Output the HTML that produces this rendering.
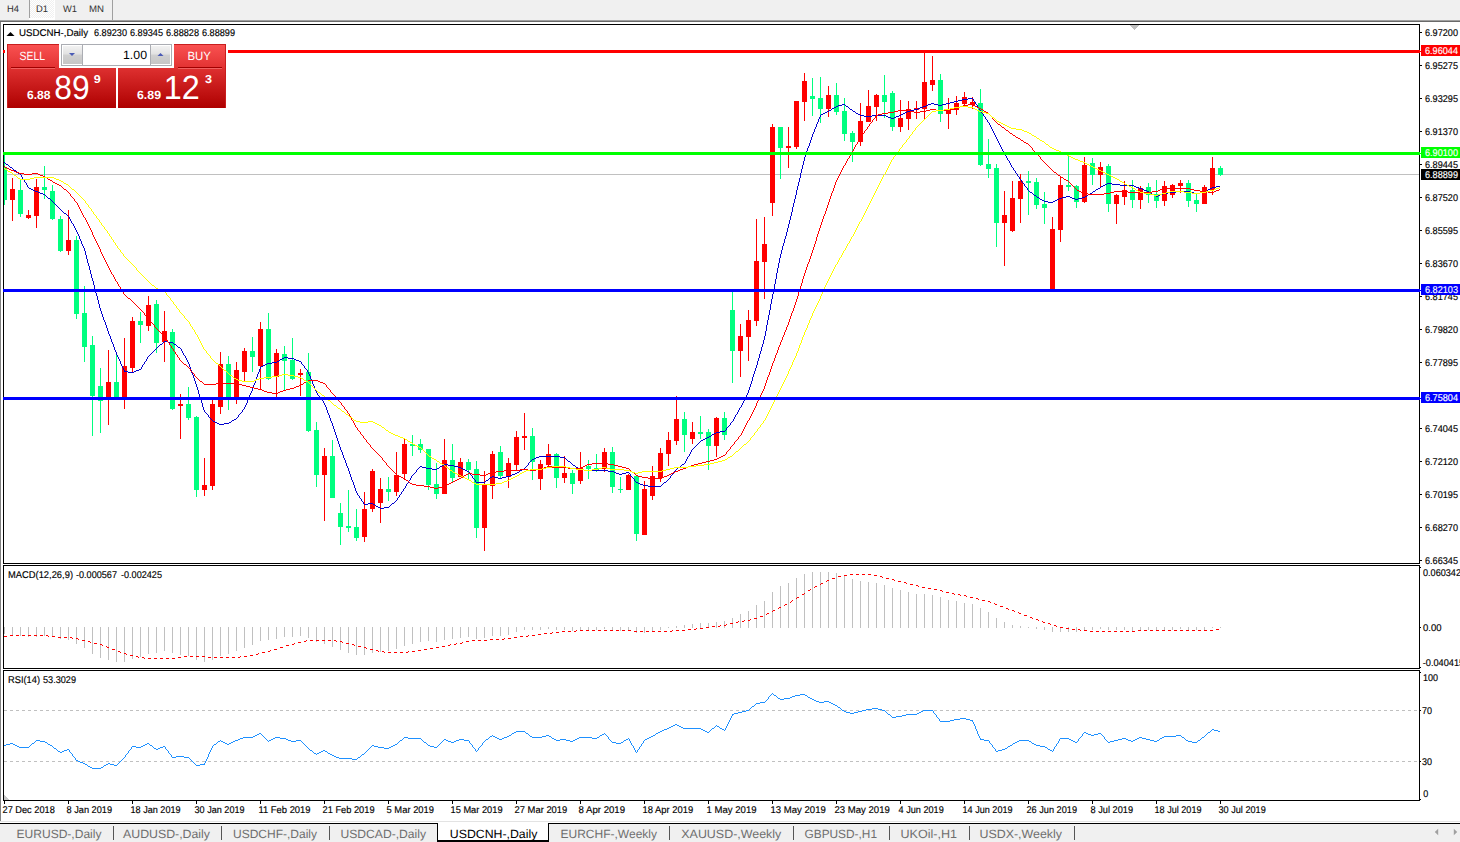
<!DOCTYPE html>
<html><head><meta charset="utf-8"><title>USDCNH-,Daily</title>
<style>html,body{margin:0;padding:0;background:#fff;overflow:hidden}body{width:1460px;height:842px;font-family:"Liberation Sans",sans-serif}svg{display:block}text{white-space:pre}</style>
</head><body><svg width="1460" height="842" viewBox="0 0 1460 842" shape-rendering="crispEdges" text-rendering="geometricPrecision" font-family="Liberation Sans, sans-serif"><rect x="0" y="0" width="1460" height="842" fill="#fff" />
<rect x="0" y="0" width="1460" height="20" fill="#f0f0f0" />
<rect x="0" y="20" width="1460" height="1" fill="#a0a0a0" />
<rect x="0" y="21" width="1460" height="1" fill="#696969" />
<defs><pattern id="chk" width="2" height="2" patternUnits="userSpaceOnUse"><rect width="2" height="2" fill="#f0f0f0"/><rect width="1" height="1" fill="#fff"/><rect x="1" y="1" width="1" height="1" fill="#fff"/></pattern></defs>
<rect x="30" y="0" width="24" height="18" fill="url(#chk)" />
<rect x="54" y="0" width="1" height="20" fill="#fff" />
<rect x="29" y="18" width="26" height="2" fill="#fff" />
<rect x="29" y="0" width="1" height="18" fill="#a0a0a0" />
<rect x="112" y="0" width="1" height="20" fill="#a0a0a0" />
<text x="7" y="12" font-size="9.6" fill="#333" textLength="12" lengthAdjust="spacingAndGlyphs" >H4</text>
<text x="36" y="12" font-size="9.6" fill="#333" textLength="12" lengthAdjust="spacingAndGlyphs" >D1</text>
<text x="63" y="12" font-size="9.6" fill="#333" textLength="14" lengthAdjust="spacingAndGlyphs" >W1</text>
<text x="89" y="12" font-size="9.6" fill="#333" textLength="15" lengthAdjust="spacingAndGlyphs" >MN</text>
<rect x="0" y="22" width="1" height="799" fill="#828282" />
<rect x="3" y="24" width="1417" height="1" fill="#000" />
<rect x="3" y="563" width="1417" height="1" fill="#000" />
<rect x="3" y="24" width="1" height="540" fill="#000" />
<rect x="1419" y="24" width="1" height="540" fill="#000" />
<rect x="3" y="565" width="1417" height="1" fill="#000" />
<rect x="3" y="668" width="1417" height="1" fill="#000" />
<rect x="3" y="565" width="1" height="104" fill="#000" />
<rect x="1419" y="565" width="1" height="104" fill="#000" />
<rect x="3" y="670" width="1417" height="1" fill="#000" />
<rect x="3" y="800" width="1417" height="1" fill="#000" />
<rect x="3" y="670" width="1" height="131" fill="#000" />
<rect x="1419" y="670" width="1" height="131" fill="#000" />
<rect x="4" y="174" width="1415" height="1" fill="#c0c0c0" />
<g><path fill="#00ff7f" d="M4 155h1v50h-1zM4 167h3v33h-3z"/><path fill="#ff0000" d="M12 178h1v43h-1zM10 189h5v11h-5z"/><path fill="#00ff7f" d="M20 180h1v37h-1zM18 190h5v24h-5z"/><path fill="#ff0000" d="M28 210h1v9h-1zM26 215h5v3h-5z"/><path fill="#ff0000" d="M36 179h1v49h-1zM34 187h5v29h-5z"/><path fill="#00ff7f" d="M44 166h1v33h-1zM42 187h5v3h-5z"/><path fill="#00ff7f" d="M52 185h1v35h-1zM50 191h5v28h-5z"/><path fill="#00ff7f" d="M60 216h1v36h-1zM58 219h5v32h-5z"/><path fill="#ff0000" d="M68 210h1v45h-1zM66 240h5v11h-5z"/><path fill="#00ff7f" d="M76 236h1v83h-1zM74 240h5v74h-5z"/><path fill="#00ff7f" d="M84 286h1v76h-1zM82 313h5v34h-5z"/><path fill="#00ff7f" d="M92 336h1v100h-1zM90 345h5v51h-5z"/><path fill="#00ff7f" d="M100 368h1v65h-1zM98 386h5v15h-5z"/><path fill="#ff0000" d="M108 350h1v75h-1zM106 382h5v15h-5z"/><path fill="#00ff7f" d="M116 355h1v44h-1zM114 382h5v15h-5z"/><path fill="#ff0000" d="M124 338h1v71h-1zM122 366h5v31h-5z"/><path fill="#ff0000" d="M132 317h1v55h-1zM130 321h5v47h-5z"/><path fill="#00ff7f" d="M140 312h1v31h-1zM138 321h5v4h-5z"/><path fill="#ff0000" d="M148 296h1v35h-1zM146 305h5v21h-5z"/><path fill="#00ff7f" d="M156 300h1v53h-1zM154 304h5v39h-5z"/><path fill="#ff0000" d="M164 311h1v51h-1zM162 331h5v11h-5z"/><path fill="#00ff7f" d="M172 329h1v81h-1zM170 332h5v77h-5z"/><path fill="#ff0000" d="M180 394h1v45h-1zM178 404h5v2h-5z"/><path fill="#00ff7f" d="M188 387h1v33h-1zM186 404h5v14h-5z"/><path fill="#00ff7f" d="M196 416h1v81h-1zM194 417h5v73h-5z"/><path fill="#ff0000" d="M204 458h1v38h-1zM202 485h5v5h-5z"/><path fill="#ff0000" d="M212 400h1v90h-1zM210 404h5v82h-5z"/><path fill="#ff0000" d="M220 352h1v62h-1zM218 364h5v43h-5z"/><path fill="#00ff7f" d="M228 356h1v54h-1zM226 364h5v33h-5z"/><path fill="#ff0000" d="M236 362h1v42h-1zM234 370h5v27h-5z"/><path fill="#ff0000" d="M244 348h1v33h-1zM242 351h5v21h-5z"/><path fill="#00ff7f" d="M252 337h1v35h-1zM250 351h5v6h-5z"/><path fill="#ff0000" d="M260 322h1v68h-1zM258 329h5v37h-5z"/><path fill="#00ff7f" d="M268 313h1v67h-1zM266 329h5v50h-5z"/><path fill="#ff0000" d="M276 349h1v48h-1zM274 353h5v24h-5z"/><path fill="#00ff7f" d="M284 346h1v44h-1zM282 354h5v7h-5z"/><path fill="#00ff7f" d="M292 338h1v42h-1zM290 360h5v19h-5z"/><path fill="#ff0000" d="M300 369h1v27h-1zM298 373h5v2h-5z"/><path fill="#00ff7f" d="M308 353h1v79h-1zM306 372h5v59h-5z"/><path fill="#00ff7f" d="M316 422h1v65h-1zM314 430h5v45h-5z"/><path fill="#ff0000" d="M324 448h1v73h-1zM322 456h5v19h-5z"/><path fill="#00ff7f" d="M332 440h1v58h-1zM330 456h5v42h-5z"/><path fill="#00ff7f" d="M340 503h1v42h-1zM338 513h5v14h-5z"/><path fill="#00ff7f" d="M348 490h1v42h-1zM346 526h5v2h-5z"/><path fill="#00ff7f" d="M356 509h1v32h-1zM354 527h5v11h-5z"/><path fill="#ff0000" d="M364 492h1v50h-1zM362 509h5v28h-5z"/><path fill="#ff0000" d="M372 469h1v43h-1zM370 471h5v38h-5z"/><path fill="#ff0000" d="M380 478h1v45h-1zM378 489h5v14h-5z"/><path fill="#00ff7f" d="M388 477h1v24h-1zM386 489h5v3h-5z"/><path fill="#ff0000" d="M396 452h1v44h-1zM394 475h5v17h-5z"/><path fill="#ff0000" d="M404 439h1v41h-1zM402 444h5v30h-5z"/><path fill="#00ff7f" d="M412 435h1v21h-1zM410 444h5v2h-5z"/><path fill="#00ff7f" d="M420 439h1v14h-1zM418 444h5v6h-5z"/><path fill="#00ff7f" d="M428 449h1v41h-1zM426 449h5v36h-5z"/><path fill="#00ff7f" d="M436 463h1v36h-1zM434 484h5v10h-5z"/><path fill="#ff0000" d="M444 439h1v55h-1zM442 460h5v34h-5z"/><path fill="#00ff7f" d="M452 444h1v38h-1zM450 460h5v18h-5z"/><path fill="#ff0000" d="M460 458h1v19h-1zM458 462h5v15h-5z"/><path fill="#00ff7f" d="M468 459h1v20h-1zM466 462h5v8h-5z"/><path fill="#00ff7f" d="M476 461h1v77h-1zM474 469h5v59h-5z"/><path fill="#ff0000" d="M484 471h1v80h-1zM482 484h5v44h-5z"/><path fill="#ff0000" d="M492 451h1v48h-1zM490 454h5v32h-5z"/><path fill="#00ff7f" d="M500 446h1v33h-1zM498 452h5v24h-5z"/><path fill="#ff0000" d="M508 458h1v30h-1zM506 463h5v14h-5z"/><path fill="#ff0000" d="M516 431h1v40h-1zM514 437h5v28h-5z"/><path fill="#ff0000" d="M524 413h1v37h-1zM522 436h5v2h-5z"/><path fill="#00ff7f" d="M532 428h1v52h-1zM530 436h5v26h-5z"/><path fill="#ff0000" d="M540 460h1v30h-1zM538 464h5v15h-5z"/><path fill="#ff0000" d="M548 444h1v22h-1zM546 454h5v11h-5z"/><path fill="#00ff7f" d="M556 453h1v35h-1zM554 454h5v24h-5z"/><path fill="#ff0000" d="M564 456h1v27h-1zM562 473h5v5h-5z"/><path fill="#00ff7f" d="M572 470h1v24h-1zM570 473h5v11h-5z"/><path fill="#ff0000" d="M580 452h1v32h-1zM578 468h5v13h-5z"/><path fill="#00ff7f" d="M588 460h1v19h-1zM586 466h5v3h-5z"/><path fill="#00ff7f" d="M596 454h1v18h-1zM594 468h5v2h-5z"/><path fill="#ff0000" d="M604 448h1v24h-1zM602 452h5v17h-5z"/><path fill="#00ff7f" d="M612 447h1v46h-1zM610 452h5v35h-5z"/><path fill="#00ff7f" d="M620 477h1v16h-1zM618 489h5v1h-5z"/><path fill="#ff0000" d="M628 474h1v16h-1zM626 475h5v15h-5z"/><path fill="#00ff7f" d="M636 475h1v66h-1zM634 476h5v58h-5z"/><path fill="#ff0000" d="M644 481h1v54h-1zM642 489h5v46h-5z"/><path fill="#ff0000" d="M652 466h1v34h-1zM650 476h5v20h-5z"/><path fill="#ff0000" d="M660 448h1v34h-1zM658 453h5v25h-5z"/><path fill="#ff0000" d="M668 432h1v34h-1zM666 440h5v14h-5z"/><path fill="#ff0000" d="M676 396h1v49h-1zM674 419h5v22h-5z"/><path fill="#00ff7f" d="M684 412h1v40h-1zM682 419h5v16h-5z"/><path fill="#ff0000" d="M692 422h1v22h-1zM690 432h5v7h-5z"/><path fill="#00ff7f" d="M700 416h1v23h-1zM698 432h5v2h-5z"/><path fill="#00ff7f" d="M708 429h1v41h-1zM706 432h5v14h-5z"/><path fill="#ff0000" d="M716 417h1v40h-1zM714 418h5v28h-5z"/><path fill="#00ff7f" d="M724 412h1v28h-1zM722 418h5v17h-5z"/><path fill="#00ff7f" d="M732 290h1v93h-1zM730 310h5v41h-5z"/><path fill="#ff0000" d="M740 324h1v53h-1zM738 336h5v15h-5z"/><path fill="#ff0000" d="M748 310h1v51h-1zM746 320h5v17h-5z"/><path fill="#ff0000" d="M756 219h1v107h-1zM754 261h5v60h-5z"/><path fill="#ff0000" d="M764 217h1v82h-1zM762 244h5v18h-5z"/><path fill="#ff0000" d="M772 124h1v92h-1zM770 127h5v76h-5z"/><path fill="#00ff7f" d="M780 127h1v52h-1zM778 127h5v21h-5z"/><path fill="#ff0000" d="M788 127h1v41h-1zM786 146h5v2h-5z"/><path fill="#ff0000" d="M796 101h1v48h-1zM794 101h5v46h-5z"/><path fill="#ff0000" d="M804 73h1v48h-1zM802 81h5v21h-5z"/><path fill="#00ff7f" d="M812 78h1v38h-1zM810 96h5v3h-5z"/><path fill="#00ff7f" d="M820 77h1v46h-1zM818 98h5v11h-5z"/><path fill="#ff0000" d="M828 86h1v31h-1zM826 95h5v14h-5z"/><path fill="#00ff7f" d="M836 83h1v32h-1zM834 95h5v17h-5z"/><path fill="#00ff7f" d="M844 98h1v43h-1zM842 111h5v23h-5z"/><path fill="#00ff7f" d="M852 131h1v31h-1zM850 133h5v9h-5z"/><path fill="#ff0000" d="M860 103h1v43h-1zM858 121h5v21h-5z"/><path fill="#ff0000" d="M868 90h1v32h-1zM866 106h5v16h-5z"/><path fill="#ff0000" d="M876 94h1v27h-1zM874 95h5v12h-5z"/><path fill="#00ff7f" d="M884 75h1v43h-1zM882 95h5v7h-5z"/><path fill="#00ff7f" d="M892 91h1v40h-1zM890 93h5v34h-5z"/><path fill="#ff0000" d="M900 100h1v32h-1zM898 118h5v9h-5z"/><path fill="#ff0000" d="M908 101h1v29h-1zM906 109h5v10h-5z"/><path fill="#ff0000" d="M916 101h1v18h-1zM914 108h5v2h-5z"/><path fill="#ff0000" d="M924 53h1v66h-1zM922 82h5v27h-5z"/><path fill="#ff0000" d="M932 56h1v35h-1zM930 80h5v5h-5z"/><path fill="#00ff7f" d="M940 74h1v48h-1zM938 80h5v34h-5z"/><path fill="#ff0000" d="M948 98h1v31h-1zM946 110h5v4h-5z"/><path fill="#ff0000" d="M956 96h1v19h-1zM954 103h5v7h-5z"/><path fill="#ff0000" d="M964 92h1v14h-1zM962 97h5v7h-5z"/><path fill="#ff0000" d="M972 97h1v12h-1zM970 102h5v3h-5z"/><path fill="#00ff7f" d="M980 89h1v77h-1zM978 103h5v62h-5z"/><path fill="#00ff7f" d="M988 139h1v39h-1zM986 164h5v5h-5z"/><path fill="#00ff7f" d="M996 164h1v83h-1zM994 168h5v55h-5z"/><path fill="#ff0000" d="M1004 191h1v75h-1zM1002 215h5v8h-5z"/><path fill="#ff0000" d="M1012 181h1v51h-1zM1010 198h5v33h-5z"/><path fill="#ff0000" d="M1020 174h1v49h-1zM1018 181h5v18h-5z"/><path fill="#00ff7f" d="M1028 171h1v44h-1zM1026 181h5v2h-5z"/><path fill="#00ff7f" d="M1036 178h1v31h-1zM1034 182h5v23h-5z"/><path fill="#00ff7f" d="M1044 192h1v32h-1zM1042 204h5v4h-5z"/><path fill="#ff0000" d="M1052 217h1v73h-1zM1050 229h5v61h-5z"/><path fill="#ff0000" d="M1060 177h1v65h-1zM1058 185h5v45h-5z"/><path fill="#00ff7f" d="M1068 155h1v36h-1zM1066 185h5v2h-5z"/><path fill="#00ff7f" d="M1076 185h1v23h-1zM1074 186h5v16h-5z"/><path fill="#ff0000" d="M1084 157h1v46h-1zM1082 165h5v37h-5z"/><path fill="#00ff7f" d="M1092 158h1v27h-1zM1090 163h5v12h-5z"/><path fill="#ff0000" d="M1100 162h1v26h-1zM1098 167h5v8h-5z"/><path fill="#00ff7f" d="M1108 164h1v48h-1zM1106 166h5v38h-5z"/><path fill="#ff0000" d="M1116 194h1v30h-1zM1114 195h5v9h-5z"/><path fill="#ff0000" d="M1124 181h1v24h-1zM1122 190h5v7h-5z"/><path fill="#00ff7f" d="M1132 180h1v28h-1zM1130 190h5v10h-5z"/><path fill="#ff0000" d="M1140 186h1v23h-1zM1138 188h5v12h-5z"/><path fill="#00ff7f" d="M1148 183h1v20h-1zM1146 187h5v8h-5z"/><path fill="#00ff7f" d="M1156 180h1v28h-1zM1154 194h5v7h-5z"/><path fill="#ff0000" d="M1164 181h1v25h-1zM1162 186h5v15h-5z"/><path fill="#ff0000" d="M1172 184h1v14h-1zM1170 185h5v10h-5z"/><path fill="#ff0000" d="M1180 180h1v13h-1zM1178 183h5v3h-5z"/><path fill="#00ff7f" d="M1188 180h1v27h-1zM1186 183h5v18h-5z"/><path fill="#00ff7f" d="M1196 193h1v19h-1zM1194 200h5v4h-5z"/><path fill="#ff0000" d="M1204 185h1v19h-1zM1202 187h5v17h-5z"/><path fill="#ff0000" d="M1212 157h1v38h-1zM1210 168h5v22h-5z"/><path fill="#00ff7f" d="M1220 166h1v10h-1zM1218 168h5v7h-5z"/></g>
<path fill="#0000cd" d="M4 162h1v1h-1zM5 163h1v1h-1zM6 164h2v1h-2zM8 165h1v1h-1zM9 166h1v1h-1zM10 167h2v1h-2zM12 168h1v1h-1zM13 169h1v1h-1zM14 170h2v1h-2zM16 171h1v1h-1zM17 172h1v1h-1zM18 173h2v1h-2zM20 174h1v1h-1zM21 175h1v2h-1zM22 177h1v2h-1zM23 179h1v1h-1zM24 180h1v2h-1zM25 182h1v1h-1zM26 183h1v2h-1zM27 185h1v2h-1zM28 187h1v1h-1zM29 188h2v1h-2zM31 189h2v1h-2zM33 190h2v1h-2zM35 191h3v1h-3zM38 192h2v1h-2zM40 193h3v1h-3zM43 194h2v1h-2zM45 195h1v1h-1zM46 196h1v1h-1zM47 197h1v1h-1zM48 198h2v1h-2zM50 199h1v1h-1zM51 200h1v1h-1zM52 201h1v1h-1zM53 202h1v1h-1zM54 203h1v1h-1zM55 204h1v1h-1zM56 205h1v1h-1zM57 206h1v1h-1zM58 207h1v1h-1zM59 208h1v1h-1zM60 209h1v1h-1zM61 210h1v1h-1zM62 211h1v1h-1zM63 212h1v1h-1zM64 213h2v1h-2zM66 214h1v1h-1zM67 215h1v1h-1zM68 216h1v1h-1zM69 217h1v2h-1zM70 219h1v2h-1zM71 221h1v2h-1zM72 223h1v1h-1zM73 224h1v2h-1zM74 226h1v2h-1zM75 228h1v2h-1zM76 230h1v2h-1zM77 232h1v2h-1zM78 234h1v2h-1zM79 236h1v3h-1zM80 239h1v2h-1zM81 241h1v3h-1zM82 244h1v2h-1zM83 246h1v2h-1zM84 248h1v3h-1zM85 251h1v4h-1zM86 255h1v4h-1zM87 259h1v4h-1zM88 263h1v3h-1zM89 266h1v4h-1zM90 270h1v4h-1zM91 274h1v4h-1zM92 278h1v3h-1zM93 281h1v4h-1zM94 285h1v4h-1zM95 289h1v4h-1zM96 293h1v3h-1zM97 296h1v4h-1zM98 300h1v4h-1zM99 304h1v4h-1zM100 308h1v3h-1zM101 311h1v3h-1zM102 314h1v3h-1zM103 317h1v3h-1zM104 320h1v2h-1zM105 322h1v3h-1zM106 325h1v3h-1zM107 328h1v3h-1zM108 331h1v3h-1zM109 334h1v2h-1zM110 336h1v3h-1zM111 339h1v3h-1zM112 342h1v2h-1zM113 344h1v3h-1zM114 347h1v3h-1zM115 350h1v2h-1zM116 352h1v3h-1zM117 355h1v2h-1zM118 357h1v2h-1zM119 359h1v2h-1zM120 361h1v3h-1zM121 364h1v2h-1zM122 366h1v2h-1zM123 368h1v2h-1zM124 370h1v1h-1zM124 371h4v1h-4zM128 372h6v1h-6zM134 371h2v1h-2zM136 370h3v1h-3zM139 369h2v1h-2zM141 367h1v2h-1zM142 365h1v2h-1zM143 364h1v1h-1zM144 362h1v2h-1zM145 361h1v1h-1zM146 359h1v2h-1zM147 357h1v2h-1zM148 356h1v1h-1zM149 355h1v1h-1zM150 354h1v1h-1zM151 353h1v1h-1zM152 352h1v1h-1zM153 351h1v1h-1zM154 350h1v1h-1zM155 349h1v1h-1zM156 348h1v1h-1zM157 347h1v1h-1zM158 346h1v1h-1zM159 345h1v1h-1zM160 344h2v1h-2zM162 343h1v1h-1zM163 342h1v1h-1zM164 341h4v1h-4zM168 342h5v1h-5zM173 343h1v1h-1zM174 344h2v1h-2zM176 345h1v1h-1zM177 346h1v1h-1zM178 347h2v1h-2zM180 348h1v1h-1zM181 349h1v2h-1zM182 351h1v2h-1zM183 353h1v2h-1zM184 355h1v1h-1zM185 356h1v2h-1zM186 358h1v2h-1zM187 360h1v2h-1zM188 362h1v2h-1zM189 364h1v3h-1zM190 367h1v3h-1zM191 370h1v3h-1zM192 373h1v2h-1zM193 375h1v3h-1zM194 378h1v3h-1zM195 381h1v3h-1zM196 384h1v3h-1zM197 387h1v3h-1zM198 390h1v4h-1zM199 394h1v3h-1zM200 397h1v3h-1zM201 400h1v3h-1zM202 403h1v4h-1zM203 407h1v3h-1zM204 410h1v2h-1zM205 412h1v1h-1zM206 413h1v1h-1zM207 414h1v1h-1zM208 415h1v2h-1zM209 417h1v1h-1zM210 418h1v1h-1zM211 419h1v1h-1zM212 420h1v1h-1zM213 421h2v1h-2zM215 422h2v1h-2zM217 423h2v1h-2zM219 424h5v1h-5zM224 423h5v1h-5zM229 422h2v1h-2zM231 421h1v1h-1zM232 420h2v1h-2zM234 419h2v1h-2zM236 418h1v1h-1zM237 417h1v1h-1zM238 415h1v2h-1zM239 414h1v1h-1zM240 413h1v1h-1zM241 412h1v1h-1zM242 410h1v2h-1zM243 409h1v1h-1zM244 407h1v2h-1zM245 405h1v2h-1zM246 403h1v2h-1zM247 400h1v3h-1zM248 398h1v2h-1zM249 395h1v3h-1zM250 393h1v2h-1zM251 391h1v2h-1zM252 388h1v3h-1zM253 385h1v3h-1zM254 383h1v2h-1zM255 380h1v3h-1zM256 377h1v3h-1zM257 374h1v3h-1zM258 372h1v2h-1zM259 369h1v3h-1zM260 367h1v2h-1zM261 366h2v1h-2zM263 365h2v1h-2zM265 364h2v1h-2zM267 363h5v1h-5zM272 362h5v1h-5zM277 361h2v1h-2zM279 360h1v1h-1zM280 359h2v1h-2zM282 358h2v1h-2zM284 357h4v1h-4zM288 358h6v1h-6zM294 359h2v1h-2zM296 360h3v1h-3zM299 361h2v1h-2zM301 362h1v2h-1zM302 364h1v1h-1zM303 365h1v1h-1zM304 366h1v2h-1zM305 368h1v1h-1zM306 369h1v1h-1zM307 370h1v2h-1zM308 372h1v2h-1zM309 374h1v2h-1zM310 376h1v3h-1zM311 379h1v2h-1zM312 381h1v3h-1zM313 384h1v2h-1zM314 386h1v3h-1zM315 389h1v2h-1zM316 391h1v2h-1zM317 393h1v2h-1zM318 395h1v1h-1zM319 396h1v1h-1zM320 397h1v2h-1zM321 399h1v1h-1zM322 400h1v1h-1zM323 401h1v2h-1zM324 403h1v2h-1zM325 405h1v2h-1zM326 407h1v3h-1zM327 410h1v3h-1zM328 413h1v2h-1zM329 415h1v3h-1zM330 418h1v3h-1zM331 421h1v2h-1zM332 423h1v3h-1zM333 426h1v3h-1zM334 429h1v3h-1zM335 432h1v3h-1zM336 435h1v3h-1zM337 438h1v3h-1zM338 441h1v3h-1zM339 444h1v3h-1zM340 447h1v3h-1zM341 450h1v2h-1zM342 452h1v3h-1zM343 455h1v3h-1zM344 458h1v2h-1zM345 460h1v3h-1zM346 463h1v3h-1zM347 466h1v2h-1zM348 468h1v3h-1zM349 471h1v3h-1zM350 474h1v3h-1zM351 477h1v3h-1zM352 480h1v2h-1zM353 482h1v3h-1zM354 485h1v3h-1zM355 488h1v3h-1zM356 491h1v2h-1zM357 493h1v2h-1zM358 495h1v1h-1zM359 496h1v2h-1zM360 498h1v1h-1zM361 499h1v2h-1zM362 501h1v1h-1zM363 502h1v2h-1zM364 504h4v1h-4zM368 503h5v1h-5zM373 504h2v1h-2zM375 505h1v1h-1zM376 506h2v1h-2zM378 507h2v1h-2zM380 508h4v1h-4zM384 507h5v1h-5zM389 506h1v1h-1zM390 505h1v1h-1zM391 504h1v1h-1zM392 503h2v1h-2zM394 502h1v1h-1zM395 501h1v1h-1zM396 500h1v1h-1zM397 498h1v2h-1zM398 497h1v1h-1zM399 495h1v2h-1zM400 494h1v1h-1zM401 492h1v2h-1zM402 491h1v1h-1zM403 489h1v2h-1zM404 488h1v1h-1zM405 486h1v2h-1zM406 484h1v2h-1zM407 483h1v1h-1zM408 481h1v2h-1zM409 480h1v1h-1zM410 478h1v2h-1zM411 476h1v2h-1zM412 475h1v1h-1zM413 474h1v1h-1zM414 473h1v1h-1zM415 472h1v1h-1zM416 470h1v2h-1zM417 469h1v1h-1zM418 468h1v1h-1zM419 467h1v1h-1zM420 466h2v1h-2zM422 467h4v1h-4zM426 468h6v1h-6zM432 469h5v1h-5zM437 468h2v1h-2zM439 467h1v1h-1zM440 466h2v1h-2zM442 465h2v1h-2zM444 464h4v1h-4zM448 465h6v1h-6zM454 466h4v1h-4zM458 467h3v1h-3zM461 468h2v1h-2zM463 469h2v1h-2zM465 470h2v1h-2zM467 471h2v1h-2zM469 472h1v2h-1zM470 474h1v1h-1zM471 475h1v1h-1zM472 476h1v2h-1zM473 478h1v1h-1zM474 479h1v1h-1zM475 480h1v2h-1zM476 482h9v1h-9zM485 481h1v1h-1zM486 480h2v1h-2zM488 479h1v1h-1zM489 478h1v1h-1zM490 477h2v1h-2zM492 476h2v1h-2zM494 477h4v1h-4zM498 478h4v1h-4zM502 477h4v1h-4zM506 476h4v1h-4zM510 475h2v1h-2zM512 474h3v1h-3zM515 473h2v1h-2zM517 472h2v1h-2zM519 471h1v1h-1zM520 470h2v1h-2zM522 469h2v1h-2zM524 468h1v1h-1zM525 467h1v1h-1zM526 466h1v1h-1zM527 465h1v1h-1zM528 463h1v2h-1zM529 462h1v1h-1zM530 461h1v1h-1zM531 460h1v1h-1zM532 459h2v1h-2zM534 458h2v1h-2zM536 457h3v1h-3zM539 456h21v1h-21zM560 457h5v1h-5zM565 458h1v1h-1zM566 459h1v1h-1zM567 460h1v1h-1zM568 461h2v1h-2zM570 462h1v1h-1zM571 463h1v1h-1zM572 464h1v1h-1zM573 465h2v1h-2zM575 466h1v1h-1zM576 467h2v1h-2zM578 468h2v1h-2zM580 469h4v1h-4zM584 470h24v1h-24zM608 471h6v1h-6zM614 472h2v1h-2zM616 473h3v1h-3zM619 474h3v1h-3zM622 473h4v1h-4zM626 472h3v1h-3zM629 473h1v1h-1zM630 474h1v2h-1zM631 476h1v1h-1zM632 477h1v1h-1zM633 478h1v1h-1zM634 479h1v2h-1zM635 481h1v1h-1zM636 482h2v1h-2zM638 483h2v1h-2zM640 484h3v1h-3zM643 485h5v1h-5zM648 486h13v1h-13zM661 485h1v1h-1zM662 484h1v1h-1zM663 483h1v1h-1zM664 482h2v1h-2zM666 481h1v1h-1zM667 480h1v1h-1zM668 479h1v1h-1zM669 478h1v1h-1zM670 476h1v2h-1zM671 475h1v1h-1zM672 474h1v1h-1zM673 473h1v1h-1zM674 471h1v2h-1zM675 470h1v1h-1zM676 469h1v1h-1zM677 468h1v1h-1zM678 467h2v1h-2zM680 466h1v1h-1zM681 465h1v1h-1zM682 464h2v1h-2zM684 463h1v1h-1zM685 461h1v2h-1zM686 459h1v2h-1zM687 457h1v2h-1zM688 456h1v1h-1zM689 454h1v2h-1zM690 452h1v2h-1zM691 450h1v2h-1zM692 449h1v1h-1zM693 448h1v1h-1zM694 447h1v1h-1zM695 446h1v1h-1zM696 445h1v1h-1zM697 444h1v1h-1zM698 443h1v1h-1zM699 442h1v1h-1zM700 441h1v1h-1zM701 440h2v1h-2zM703 439h2v1h-2zM705 438h2v1h-2zM707 437h2v1h-2zM709 436h2v1h-2zM711 435h1v1h-1zM712 434h2v1h-2zM714 433h2v1h-2zM716 432h4v1h-4zM720 431h5v1h-5zM725 430h1v1h-1zM726 428h1v2h-1zM727 427h1v1h-1zM728 426h1v1h-1zM729 425h1v1h-1zM730 423h1v2h-1zM731 422h1v1h-1zM732 421h1v1h-1zM733 419h1v2h-1zM734 417h1v2h-1zM735 415h1v2h-1zM736 414h1v1h-1zM737 412h1v2h-1zM738 410h1v2h-1zM739 408h1v2h-1zM740 407h1v1h-1zM741 405h1v2h-1zM742 403h1v2h-1zM743 401h1v2h-1zM744 399h1v2h-1zM745 397h1v2h-1zM746 395h1v2h-1zM747 393h1v2h-1zM748 390h1v3h-1zM749 387h1v3h-1zM750 384h1v3h-1zM751 381h1v3h-1zM752 377h1v4h-1zM753 374h1v3h-1zM754 371h1v3h-1zM755 368h1v3h-1zM756 365h1v3h-1zM757 361h1v4h-1zM758 358h1v3h-1zM759 354h1v4h-1zM760 351h1v3h-1zM761 347h1v4h-1zM762 344h1v3h-1zM763 340h1v4h-1zM764 336h1v4h-1zM765 331h1v5h-1zM766 325h1v6h-1zM767 320h1v5h-1zM768 315h1v5h-1zM769 310h1v5h-1zM770 304h1v6h-1zM771 299h1v5h-1zM772 294h1v5h-1zM773 289h1v5h-1zM774 284h1v5h-1zM775 279h1v5h-1zM776 273h1v6h-1zM777 268h1v5h-1zM778 263h1v5h-1zM779 258h1v5h-1zM780 254h1v4h-1zM781 250h1v4h-1zM782 246h1v4h-1zM783 243h1v3h-1zM784 239h1v4h-1zM785 236h1v3h-1zM786 232h1v4h-1zM787 228h1v4h-1zM788 224h1v4h-1zM789 220h1v4h-1zM790 216h1v4h-1zM791 212h1v4h-1zM792 207h1v5h-1zM793 203h1v4h-1zM794 199h1v4h-1zM795 195h1v4h-1zM796 190h1v5h-1zM797 186h1v4h-1zM798 182h1v4h-1zM799 178h1v4h-1zM800 173h1v5h-1zM801 169h1v4h-1zM802 165h1v4h-1zM803 161h1v4h-1zM804 157h1v4h-1zM805 154h1v3h-1zM806 151h1v3h-1zM807 148h1v3h-1zM808 146h1v2h-1zM809 143h1v3h-1zM810 140h1v3h-1zM811 137h1v3h-1zM812 134h1v3h-1zM813 132h1v2h-1zM814 129h1v3h-1zM815 127h1v2h-1zM816 124h1v3h-1zM817 122h1v2h-1zM818 119h1v3h-1zM819 117h1v2h-1zM820 115h1v2h-1zM821 114h2v1h-2zM823 113h2v1h-2zM825 112h2v1h-2zM827 111h2v1h-2zM829 110h2v1h-2zM831 109h1v1h-1zM832 108h2v1h-2zM834 107h2v1h-2zM836 106h2v1h-2zM838 105h4v1h-4zM842 104h3v1h-3zM845 105h1v1h-1zM846 106h2v1h-2zM848 107h1v1h-1zM849 108h1v1h-1zM850 109h2v1h-2zM852 110h1v1h-1zM853 111h2v1h-2zM855 112h1v1h-1zM856 113h2v1h-2zM858 114h2v1h-2zM860 115h4v1h-4zM864 116h8v1h-8zM872 115h14v1h-14zM886 116h2v1h-2zM888 117h3v1h-3zM891 118h3v1h-3zM894 117h2v1h-2zM896 116h3v1h-3zM899 115h2v1h-2zM901 114h2v1h-2zM903 113h2v1h-2zM905 112h2v1h-2zM907 111h3v1h-3zM910 110h4v1h-4zM914 109h4v1h-4zM918 108h2v1h-2zM920 107h3v1h-3zM923 106h3v1h-3zM926 105h2v1h-2zM928 104h3v1h-3zM931 103h3v1h-3zM934 104h4v1h-4zM938 105h4v1h-4zM942 104h4v1h-4zM946 103h4v1h-4zM950 102h4v1h-4zM954 101h4v1h-4zM958 100h4v1h-4zM962 99h6v1h-6zM968 98h5v1h-5zM973 99h1v2h-1zM974 101h1v1h-1zM975 102h1v2h-1zM976 104h1v1h-1zM977 105h1v2h-1zM978 107h1v1h-1zM979 108h1v2h-1zM980 110h1v1h-1zM981 111h1v2h-1zM982 113h1v1h-1zM983 114h1v2h-1zM984 116h1v1h-1zM985 117h1v2h-1zM986 119h1v1h-1zM987 120h1v2h-1zM988 122h1v1h-1zM989 123h1v2h-1zM990 125h1v2h-1zM991 127h1v2h-1zM992 129h1v2h-1zM993 131h1v2h-1zM994 133h1v2h-1zM995 135h1v2h-1zM996 137h1v2h-1zM997 139h1v2h-1zM998 141h1v2h-1zM999 143h1v2h-1zM1000 145h1v2h-1zM1001 147h1v2h-1zM1002 149h1v2h-1zM1003 151h1v2h-1zM1004 153h1v1h-1zM1005 154h1v2h-1zM1006 156h1v2h-1zM1007 158h1v2h-1zM1008 160h1v1h-1zM1009 161h1v2h-1zM1010 163h1v2h-1zM1011 165h1v2h-1zM1012 167h1v1h-1zM1013 168h1v2h-1zM1014 170h1v1h-1zM1015 171h1v2h-1zM1016 173h1v1h-1zM1017 174h1v2h-1zM1018 176h1v1h-1zM1019 177h1v2h-1zM1020 179h1v1h-1zM1021 180h1v2h-1zM1022 182h1v1h-1zM1023 183h1v1h-1zM1024 184h1v2h-1zM1025 186h1v1h-1zM1026 187h1v1h-1zM1027 188h1v2h-1zM1028 190h1v1h-1zM1029 191h1v1h-1zM1030 192h2v1h-2zM1032 193h1v1h-1zM1033 194h1v1h-1zM1034 195h2v1h-2zM1036 196h1v1h-1zM1037 197h2v1h-2zM1039 198h1v1h-1zM1040 199h2v1h-2zM1042 200h2v1h-2zM1044 201h4v1h-4zM1048 202h5v1h-5zM1053 201h2v1h-2zM1055 200h2v1h-2zM1057 199h2v1h-2zM1059 198h3v1h-3zM1062 197h4v1h-4zM1066 196h4v1h-4zM1070 197h2v1h-2zM1072 198h3v1h-3zM1075 199h3v1h-3zM1078 198h4v1h-4zM1082 197h3v1h-3zM1085 196h2v1h-2zM1087 195h1v1h-1zM1088 194h2v1h-2zM1090 193h2v1h-2zM1092 192h1v1h-1zM1093 191h2v1h-2zM1095 190h1v1h-1zM1096 189h2v1h-2zM1098 188h2v1h-2zM1100 187h1v1h-1zM1101 186h2v1h-2zM1103 185h2v1h-2zM1105 184h2v1h-2zM1107 183h5v1h-5zM1112 184h8v1h-8zM1120 185h14v1h-14zM1134 186h2v1h-2zM1136 187h3v1h-3zM1139 188h3v1h-3zM1142 189h2v1h-2zM1144 190h3v1h-3zM1147 191h2v1h-2zM1149 192h2v1h-2zM1151 193h1v1h-1zM1152 194h2v1h-2zM1154 195h2v1h-2zM1156 196h2v1h-2zM1158 195h2v1h-2zM1160 194h3v1h-3zM1163 193h5v1h-5zM1168 192h8v1h-8zM1176 191h14v1h-14zM1190 192h4v1h-4zM1194 193h6v1h-6zM1200 192h5v1h-5zM1205 191h2v1h-2zM1207 190h1v1h-1zM1208 189h2v1h-2zM1210 188h2v1h-2zM1212 187h4v1h-4zM1216 186h4v1h-4z"/>
<path fill="#ff0000" d="M4 166h1v1h-1zM5 167h2v1h-2zM7 168h2v1h-2zM9 169h2v1h-2zM11 170h3v1h-3zM14 171h2v1h-2zM16 172h3v1h-3zM19 173h5v1h-5zM24 174h8v1h-8zM32 173h6v1h-6zM38 174h2v1h-2zM40 175h3v1h-3zM43 176h2v1h-2zM45 177h2v1h-2zM47 178h1v1h-1zM48 179h2v1h-2zM50 180h2v1h-2zM52 181h1v1h-1zM53 182h2v1h-2zM55 183h2v1h-2zM57 184h2v1h-2zM59 185h2v1h-2zM61 186h1v1h-1zM62 187h1v1h-1zM63 188h1v1h-1zM64 189h2v1h-2zM66 190h1v1h-1zM67 191h1v1h-1zM68 192h1v1h-1zM69 193h1v1h-1zM70 194h1v2h-1zM71 196h1v1h-1zM72 197h1v1h-1zM73 198h1v1h-1zM74 199h1v2h-1zM75 201h1v1h-1zM76 202h1v1h-1zM77 203h1v2h-1zM78 205h1v2h-1zM79 207h1v2h-1zM80 209h1v2h-1zM81 211h1v2h-1zM82 213h1v2h-1zM83 215h1v2h-1zM84 217h1v1h-1zM85 218h1v2h-1zM86 220h1v2h-1zM87 222h1v2h-1zM88 224h1v2h-1zM89 226h1v2h-1zM90 228h1v2h-1zM91 230h1v2h-1zM92 232h1v3h-1zM93 235h1v2h-1zM94 237h1v2h-1zM95 239h1v2h-1zM96 241h1v2h-1zM97 243h1v2h-1zM98 245h1v2h-1zM99 247h1v2h-1zM100 249h1v3h-1zM101 252h1v2h-1zM102 254h1v2h-1zM103 256h1v2h-1zM104 258h1v2h-1zM105 260h1v2h-1zM106 262h1v2h-1zM107 264h1v2h-1zM108 266h1v2h-1zM109 268h1v2h-1zM110 270h1v2h-1zM111 272h1v2h-1zM112 274h1v1h-1zM113 275h1v2h-1zM114 277h1v2h-1zM115 279h1v2h-1zM116 281h1v1h-1zM117 282h1v2h-1zM118 284h1v2h-1zM119 286h1v1h-1zM120 287h1v2h-1zM121 289h1v1h-1zM122 290h1v2h-1zM123 292h1v2h-1zM124 294h1v1h-1zM125 295h1v1h-1zM126 296h1v1h-1zM127 297h1v1h-1zM128 298h2v1h-2zM130 299h1v1h-1zM131 300h1v1h-1zM132 301h1v1h-1zM133 302h1v1h-1zM134 303h1v1h-1zM135 304h1v1h-1zM136 305h1v1h-1zM137 306h1v1h-1zM138 307h1v1h-1zM139 308h1v1h-1zM140 309h1v1h-1zM141 310h1v1h-1zM142 311h1v1h-1zM143 312h1v1h-1zM144 313h1v2h-1zM145 315h1v1h-1zM146 316h1v1h-1zM147 317h1v1h-1zM148 318h1v1h-1zM149 319h1v1h-1zM150 320h1v2h-1zM151 322h1v1h-1zM152 323h1v1h-1zM153 324h1v1h-1zM154 325h1v2h-1zM155 327h1v1h-1zM156 328h1v1h-1zM157 329h1v1h-1zM158 330h1v1h-1zM159 331h1v1h-1zM160 332h1v1h-1zM161 333h1v1h-1zM162 334h1v1h-1zM163 335h1v1h-1zM164 336h1v1h-1zM165 337h1v2h-1zM166 339h1v1h-1zM167 340h1v2h-1zM168 342h1v1h-1zM169 343h1v2h-1zM170 345h1v1h-1zM171 346h1v2h-1zM172 348h1v1h-1zM173 349h1v2h-1zM174 351h1v1h-1zM175 352h1v2h-1zM176 354h1v1h-1zM177 355h1v2h-1zM178 357h1v1h-1zM179 358h1v2h-1zM180 360h1v1h-1zM181 361h1v1h-1zM182 362h1v1h-1zM183 363h1v1h-1zM184 364h2v1h-2zM186 365h1v1h-1zM187 366h1v1h-1zM188 367h1v1h-1zM189 368h1v1h-1zM190 369h1v2h-1zM191 371h1v1h-1zM192 372h1v1h-1zM193 373h1v1h-1zM194 374h1v2h-1zM195 376h1v1h-1zM196 377h1v1h-1zM197 378h1v1h-1zM198 379h1v1h-1zM199 380h1v1h-1zM200 381h2v1h-2zM202 382h1v1h-1zM203 383h1v1h-1zM204 384h12v1h-12zM216 383h22v1h-22zM238 384h4v1h-4zM242 385h4v1h-4zM246 386h4v1h-4zM250 387h4v1h-4zM254 388h4v1h-4zM258 389h4v1h-4zM262 390h2v1h-2zM264 391h3v1h-3zM267 392h5v1h-5zM272 393h6v1h-6zM278 392h2v1h-2zM280 391h3v1h-3zM283 390h3v1h-3zM286 389h4v1h-4zM290 388h4v1h-4zM294 387h2v1h-2zM296 386h3v1h-3zM299 385h2v1h-2zM301 384h2v1h-2zM303 383h1v1h-1zM304 382h2v1h-2zM306 381h2v1h-2zM308 380h10v1h-10zM318 381h2v1h-2zM320 382h3v1h-3zM323 383h2v1h-2zM325 384h1v1h-1zM326 385h1v2h-1zM327 387h1v1h-1zM328 388h1v1h-1zM329 389h1v1h-1zM330 390h1v2h-1zM331 392h1v1h-1zM332 393h1v1h-1zM333 394h1v1h-1zM334 395h1v1h-1zM335 396h1v1h-1zM336 397h1v2h-1zM337 399h1v1h-1zM338 400h1v1h-1zM339 401h1v1h-1zM340 402h1v1h-1zM341 403h1v2h-1zM342 405h1v1h-1zM343 406h1v1h-1zM344 407h1v2h-1zM345 409h1v1h-1zM346 410h1v1h-1zM347 411h1v2h-1zM348 413h1v1h-1zM349 414h1v2h-1zM350 416h1v2h-1zM351 418h1v2h-1zM352 420h1v1h-1zM353 421h1v2h-1zM354 423h1v2h-1zM355 425h1v2h-1zM356 427h1v1h-1zM357 428h1v2h-1zM358 430h1v1h-1zM359 431h1v1h-1zM360 432h1v2h-1zM361 434h1v1h-1zM362 435h1v1h-1zM363 436h1v2h-1zM364 438h1v1h-1zM365 439h1v1h-1zM366 440h1v2h-1zM367 442h1v1h-1zM368 443h1v1h-1zM369 444h1v1h-1zM370 445h1v2h-1zM371 447h1v1h-1zM372 448h1v1h-1zM373 449h1v1h-1zM374 450h1v1h-1zM375 451h1v1h-1zM376 452h1v1h-1zM377 453h1v1h-1zM378 454h1v1h-1zM379 455h1v1h-1zM380 456h1v1h-1zM381 457h1v1h-1zM382 458h1v2h-1zM383 460h1v1h-1zM384 461h1v1h-1zM385 462h1v1h-1zM386 463h1v2h-1zM387 465h1v1h-1zM388 466h1v1h-1zM389 467h1v1h-1zM390 468h1v1h-1zM391 469h1v1h-1zM392 470h1v1h-1zM393 471h1v1h-1zM394 472h1v1h-1zM395 473h1v1h-1zM396 474h1v1h-1zM397 475h2v1h-2zM399 476h2v1h-2zM401 477h2v1h-2zM403 478h2v1h-2zM405 479h1v1h-1zM406 480h2v1h-2zM408 481h1v1h-1zM409 482h1v1h-1zM410 483h2v1h-2zM412 484h4v1h-4zM416 485h8v1h-8zM424 486h6v1h-6zM430 487h4v1h-4zM434 488h4v1h-4zM438 487h4v1h-4zM442 486h3v1h-3zM445 485h2v1h-2zM447 484h2v1h-2zM449 483h2v1h-2zM451 482h2v1h-2zM453 481h2v1h-2zM455 480h2v1h-2zM457 479h2v1h-2zM459 478h2v1h-2zM461 477h2v1h-2zM463 476h1v1h-1zM464 475h2v1h-2zM466 474h2v1h-2zM468 473h4v1h-4zM472 474h8v1h-8zM480 475h6v1h-6zM486 474h2v1h-2zM488 473h3v1h-3zM491 472h5v1h-5zM496 471h8v1h-8zM504 470h16v1h-16zM520 469h8v1h-8zM528 470h8v1h-8zM536 469h6v1h-6zM542 468h2v1h-2zM544 467h3v1h-3zM547 466h5v1h-5zM552 467h16v1h-16zM568 468h13v1h-13zM581 467h2v1h-2zM583 466h2v1h-2zM585 465h2v1h-2zM587 464h5v1h-5zM592 463h16v1h-16zM608 464h6v1h-6zM614 465h4v1h-4zM618 466h4v1h-4zM622 467h4v1h-4zM626 468h3v1h-3zM629 469h1v1h-1zM630 470h1v1h-1zM631 471h1v1h-1zM632 472h2v1h-2zM634 473h1v1h-1zM635 474h1v1h-1zM636 475h2v1h-2zM638 476h4v1h-4zM642 477h6v1h-6zM648 478h14v1h-14zM662 477h2v1h-2zM664 476h3v1h-3zM667 475h2v1h-2zM669 474h2v1h-2zM671 473h2v1h-2zM673 472h2v1h-2zM675 471h3v1h-3zM678 470h2v1h-2zM680 469h3v1h-3zM683 468h3v1h-3zM686 467h2v1h-2zM688 466h3v1h-3zM691 465h3v1h-3zM694 464h4v1h-4zM698 463h4v1h-4zM702 462h4v1h-4zM706 461h4v1h-4zM710 460h4v1h-4zM714 459h3v1h-3zM717 458h2v1h-2zM719 457h2v1h-2zM721 456h2v1h-2zM723 455h2v1h-2zM725 454h1v1h-1zM726 452h1v2h-1zM727 451h1v1h-1zM728 450h1v1h-1zM729 449h1v1h-1zM730 447h1v2h-1zM731 446h1v1h-1zM732 445h1v1h-1zM733 444h1v1h-1zM734 442h1v2h-1zM735 441h1v1h-1zM736 440h1v1h-1zM737 439h1v1h-1zM738 437h1v2h-1zM739 436h1v1h-1zM740 435h1v1h-1zM741 433h1v2h-1zM742 431h1v2h-1zM743 429h1v2h-1zM744 427h1v2h-1zM745 425h1v2h-1zM746 423h1v2h-1zM747 421h1v2h-1zM748 420h1v1h-1zM749 418h1v2h-1zM750 416h1v2h-1zM751 414h1v2h-1zM752 412h1v2h-1zM753 410h1v2h-1zM754 408h1v2h-1zM755 406h1v2h-1zM756 403h1v3h-1zM757 401h1v2h-1zM758 399h1v2h-1zM759 397h1v2h-1zM760 395h1v2h-1zM761 393h1v2h-1zM762 391h1v2h-1zM763 389h1v2h-1zM764 386h1v3h-1zM765 383h1v3h-1zM766 380h1v3h-1zM767 377h1v3h-1zM768 375h1v2h-1zM769 372h1v3h-1zM770 369h1v3h-1zM771 366h1v3h-1zM772 363h1v3h-1zM773 361h1v2h-1zM774 358h1v3h-1zM775 355h1v3h-1zM776 353h1v2h-1zM777 350h1v3h-1zM778 347h1v3h-1zM779 345h1v2h-1zM780 342h1v3h-1zM781 340h1v2h-1zM782 337h1v3h-1zM783 335h1v2h-1zM784 332h1v3h-1zM785 330h1v2h-1zM786 327h1v3h-1zM787 325h1v2h-1zM788 322h1v3h-1zM789 319h1v3h-1zM790 316h1v3h-1zM791 313h1v3h-1zM792 311h1v2h-1zM793 308h1v3h-1zM794 305h1v3h-1zM795 302h1v3h-1zM796 299h1v3h-1zM797 296h1v3h-1zM798 292h1v4h-1zM799 289h1v3h-1zM800 286h1v3h-1zM801 283h1v3h-1zM802 279h1v4h-1zM803 276h1v3h-1zM804 273h1v3h-1zM805 270h1v3h-1zM806 267h1v3h-1zM807 264h1v3h-1zM808 262h1v2h-1zM809 259h1v3h-1zM810 256h1v3h-1zM811 253h1v3h-1zM812 250h1v3h-1zM813 247h1v3h-1zM814 244h1v3h-1zM815 241h1v3h-1zM816 237h1v4h-1zM817 234h1v3h-1zM818 231h1v3h-1zM819 228h1v3h-1zM820 225h1v3h-1zM821 222h1v3h-1zM822 219h1v3h-1zM823 216h1v3h-1zM824 214h1v2h-1zM825 211h1v3h-1zM826 208h1v3h-1zM827 205h1v3h-1zM828 202h1v3h-1zM829 199h1v3h-1zM830 196h1v3h-1zM831 193h1v3h-1zM832 191h1v2h-1zM833 188h1v3h-1zM834 185h1v3h-1zM835 182h1v3h-1zM836 180h1v2h-1zM837 178h1v2h-1zM838 176h1v2h-1zM839 174h1v2h-1zM840 172h1v2h-1zM841 170h1v2h-1zM842 168h1v2h-1zM843 166h1v2h-1zM844 165h1v1h-1zM845 163h1v2h-1zM846 161h1v2h-1zM847 159h1v2h-1zM848 158h1v1h-1zM849 156h1v2h-1zM850 154h1v2h-1zM851 152h1v2h-1zM852 151h1v1h-1zM853 149h1v2h-1zM854 147h1v2h-1zM855 145h1v2h-1zM856 144h1v1h-1zM857 142h1v2h-1zM858 140h1v2h-1zM859 138h1v2h-1zM860 137h1v1h-1zM861 135h1v2h-1zM862 134h1v1h-1zM863 133h1v1h-1zM864 131h1v2h-1zM865 130h1v1h-1zM866 129h1v1h-1zM867 127h1v2h-1zM868 126h1v1h-1zM869 124h1v2h-1zM870 123h1v1h-1zM871 122h1v1h-1zM872 120h1v2h-1zM873 119h1v1h-1zM874 118h1v1h-1zM875 116h1v2h-1zM876 115h2v1h-2zM878 114h4v1h-4zM882 113h6v1h-6zM888 112h6v1h-6zM894 111h4v1h-4zM898 110h12v1h-12zM910 111h4v1h-4zM914 112h6v1h-6zM920 111h6v1h-6zM926 110h4v1h-4zM930 109h6v1h-6zM936 110h14v1h-14zM950 109h4v1h-4zM954 108h4v1h-4zM958 107h2v1h-2zM960 106h3v1h-3zM963 105h5v1h-5zM968 104h5v1h-5zM973 105h2v1h-2zM975 106h2v1h-2zM977 107h2v1h-2zM979 108h2v1h-2zM981 109h2v1h-2zM983 110h1v1h-1zM984 111h2v1h-2zM986 112h2v1h-2zM988 113h1v1h-1zM989 114h1v1h-1zM990 115h1v1h-1zM991 116h1v1h-1zM992 117h1v2h-1zM993 119h1v1h-1zM994 120h1v1h-1zM995 121h1v1h-1zM996 122h1v1h-1zM997 123h1v1h-1zM998 124h2v1h-2zM1000 125h1v1h-1zM1001 126h1v1h-1zM1002 127h2v1h-2zM1004 128h1v1h-1zM1005 129h1v1h-1zM1006 130h2v1h-2zM1008 131h1v1h-1zM1009 132h1v1h-1zM1010 133h2v1h-2zM1012 134h1v1h-1zM1013 135h2v1h-2zM1015 136h1v1h-1zM1016 137h2v1h-2zM1018 138h2v1h-2zM1020 139h1v1h-1zM1021 140h2v1h-2zM1023 141h1v1h-1zM1024 142h2v1h-2zM1026 143h2v1h-2zM1028 144h1v1h-1zM1029 145h1v1h-1zM1030 146h1v1h-1zM1031 147h1v1h-1zM1032 148h1v2h-1zM1033 150h1v1h-1zM1034 151h1v1h-1zM1035 152h1v1h-1zM1036 153h1v1h-1zM1037 154h1v1h-1zM1038 155h1v1h-1zM1039 156h1v1h-1zM1040 157h1v2h-1zM1041 159h1v1h-1zM1042 160h1v1h-1zM1043 161h1v1h-1zM1044 162h1v1h-1zM1045 163h1v1h-1zM1046 164h1v1h-1zM1047 165h1v1h-1zM1048 166h1v1h-1zM1049 167h1v1h-1zM1050 168h1v1h-1zM1051 169h1v1h-1zM1052 170h1v1h-1zM1053 171h1v1h-1zM1054 172h2v1h-2zM1056 173h1v1h-1zM1057 174h1v1h-1zM1058 175h2v1h-2zM1060 176h1v1h-1zM1061 177h2v1h-2zM1063 178h1v1h-1zM1064 179h2v1h-2zM1066 180h2v1h-2zM1068 181h1v1h-1zM1069 182h1v1h-1zM1070 183h1v1h-1zM1071 184h1v1h-1zM1072 185h1v1h-1zM1073 186h1v1h-1zM1074 187h1v1h-1zM1075 188h1v1h-1zM1076 189h1v1h-1zM1077 190h2v1h-2zM1079 191h2v1h-2zM1081 192h2v1h-2zM1083 193h5v1h-5zM1088 194h16v1h-16zM1104 193h6v1h-6zM1110 192h4v1h-4zM1114 191h14v1h-14zM1128 192h24v1h-24zM1152 191h6v1h-6zM1158 190h2v1h-2zM1160 189h3v1h-3zM1163 188h27v1h-27zM1190 189h4v1h-4zM1194 190h6v1h-6zM1200 191h8v1h-8zM1208 192h6v1h-6zM1214 191h2v1h-2zM1216 190h3v1h-3zM1219 189h1v1h-1z"/>
<path fill="#ffff00" d="M4 168h1v1h-1zM5 169h2v1h-2zM7 170h1v1h-1zM8 171h2v1h-2zM10 172h2v1h-2zM12 173h1v1h-1zM13 174h1v1h-1zM14 175h2v1h-2zM16 176h1v1h-1zM17 177h1v1h-1zM18 178h2v1h-2zM20 179h10v1h-10zM30 178h4v1h-4zM34 177h20v1h-20zM54 178h2v1h-2zM56 179h3v1h-3zM59 180h2v1h-2zM61 181h2v1h-2zM63 182h1v1h-1zM64 183h2v1h-2zM66 184h2v1h-2zM68 185h1v1h-1zM69 186h1v1h-1zM70 187h1v1h-1zM71 188h1v1h-1zM72 189h2v1h-2zM74 190h1v1h-1zM75 191h1v1h-1zM76 192h1v1h-1zM77 193h1v1h-1zM78 194h1v1h-1zM79 195h1v1h-1zM80 196h1v1h-1zM81 197h1v1h-1zM82 198h1v1h-1zM83 199h1v1h-1zM84 200h1v1h-1zM85 201h1v2h-1zM86 203h1v1h-1zM87 204h1v1h-1zM88 205h1v2h-1zM89 207h1v1h-1zM90 208h1v1h-1zM91 209h1v2h-1zM92 211h1v1h-1zM93 212h1v2h-1zM94 214h1v1h-1zM95 215h1v1h-1zM96 216h1v2h-1zM97 218h1v1h-1zM98 219h1v1h-1zM99 220h1v2h-1zM100 222h1v1h-1zM101 223h1v2h-1zM102 225h1v1h-1zM103 226h1v1h-1zM104 227h1v2h-1zM105 229h1v1h-1zM106 230h1v1h-1zM107 231h1v2h-1zM108 233h1v1h-1zM109 234h1v2h-1zM110 236h1v1h-1zM111 237h1v2h-1zM112 239h1v1h-1zM113 240h1v2h-1zM114 242h1v1h-1zM115 243h1v2h-1zM116 245h1v1h-1zM117 246h1v2h-1zM118 248h1v1h-1zM119 249h1v1h-1zM120 250h1v2h-1zM121 252h1v1h-1zM122 253h1v1h-1zM123 254h1v2h-1zM124 256h1v1h-1zM125 257h1v1h-1zM126 258h1v1h-1zM127 259h1v1h-1zM128 260h1v1h-1zM129 261h1v1h-1zM130 262h1v1h-1zM131 263h1v1h-1zM132 264h1v1h-1zM133 265h1v1h-1zM134 266h1v1h-1zM135 267h1v1h-1zM136 268h1v2h-1zM137 270h1v1h-1zM138 271h1v1h-1zM139 272h1v1h-1zM140 273h1v1h-1zM141 274h1v1h-1zM142 275h1v1h-1zM143 276h1v1h-1zM144 277h1v1h-1zM145 278h1v1h-1zM146 279h1v1h-1zM147 280h1v1h-1zM148 281h1v1h-1zM149 282h1v1h-1zM150 283h1v1h-1zM151 284h1v1h-1zM152 285h2v1h-2zM154 286h1v1h-1zM155 287h1v1h-1zM156 288h2v1h-2zM158 289h2v1h-2zM160 290h3v1h-3zM163 291h2v1h-2zM165 292h1v1h-1zM166 293h1v2h-1zM167 295h1v1h-1zM168 296h1v1h-1zM169 297h1v1h-1zM170 298h1v2h-1zM171 300h1v1h-1zM172 301h1v1h-1zM173 302h1v2h-1zM174 304h1v1h-1zM175 305h1v1h-1zM176 306h1v2h-1zM177 308h1v1h-1zM178 309h1v1h-1zM179 310h1v2h-1zM180 312h1v1h-1zM181 313h1v1h-1zM182 314h1v1h-1zM183 315h1v1h-1zM184 316h1v2h-1zM185 318h1v1h-1zM186 319h1v1h-1zM187 320h1v1h-1zM188 321h1v1h-1zM189 322h1v2h-1zM190 324h1v2h-1zM191 326h1v1h-1zM192 327h1v2h-1zM193 329h1v1h-1zM194 330h1v2h-1zM195 332h1v2h-1zM196 334h1v1h-1zM197 335h1v2h-1zM198 337h1v2h-1zM199 339h1v2h-1zM200 341h1v2h-1zM201 343h1v2h-1zM202 345h1v2h-1zM203 347h1v2h-1zM204 349h1v1h-1zM205 350h1v1h-1zM206 351h1v2h-1zM207 353h1v1h-1zM208 354h1v1h-1zM209 355h1v1h-1zM210 356h1v2h-1zM211 358h1v1h-1zM212 359h1v1h-1zM213 360h1v1h-1zM214 361h1v1h-1zM215 362h1v1h-1zM216 363h2v1h-2zM218 364h1v1h-1zM219 365h1v1h-1zM220 366h1v1h-1zM221 367h1v1h-1zM222 368h1v1h-1zM223 369h1v1h-1zM224 370h2v1h-2zM226 371h1v1h-1zM227 372h1v1h-1zM228 373h1v1h-1zM229 374h1v1h-1zM230 375h2v1h-2zM232 376h1v1h-1zM233 377h1v1h-1zM234 378h2v1h-2zM236 379h2v1h-2zM238 380h4v1h-4zM242 381h12v1h-12zM254 380h2v1h-2zM256 379h3v1h-3zM259 378h5v1h-5zM264 377h8v1h-8zM272 376h6v1h-6zM278 375h4v1h-4zM282 374h6v1h-6zM288 375h6v1h-6zM294 376h4v1h-4zM298 377h3v1h-3zM301 378h2v1h-2zM303 379h1v1h-1zM304 380h2v1h-2zM306 381h2v1h-2zM308 382h1v1h-1zM309 383h1v1h-1zM310 384h1v1h-1zM311 385h1v1h-1zM312 386h1v1h-1zM313 387h1v1h-1zM314 388h1v1h-1zM315 389h1v1h-1zM316 390h1v1h-1zM317 391h1v1h-1zM318 392h2v1h-2zM320 393h1v1h-1zM321 394h1v1h-1zM322 395h2v1h-2zM324 396h1v1h-1zM325 397h1v1h-1zM326 398h1v1h-1zM327 399h1v1h-1zM328 400h2v1h-2zM330 401h1v1h-1zM331 402h1v1h-1zM332 403h1v1h-1zM333 404h1v1h-1zM334 405h2v1h-2zM336 406h1v1h-1zM337 407h1v1h-1zM338 408h2v1h-2zM340 409h1v1h-1zM341 410h1v1h-1zM342 411h2v1h-2zM344 412h1v1h-1zM345 413h1v1h-1zM346 414h2v1h-2zM348 415h1v1h-1zM349 416h1v1h-1zM350 417h2v1h-2zM352 418h1v1h-1zM353 419h1v1h-1zM354 420h2v1h-2zM356 421h4v1h-4zM360 422h8v1h-8zM368 421h5v1h-5zM373 422h2v1h-2zM375 423h2v1h-2zM377 424h2v1h-2zM379 425h2v1h-2zM381 426h1v1h-1zM382 427h2v1h-2zM384 428h1v1h-1zM385 429h1v1h-1zM386 430h2v1h-2zM388 431h1v1h-1zM389 432h2v1h-2zM391 433h2v1h-2zM393 434h2v1h-2zM395 435h3v1h-3zM398 436h2v1h-2zM400 437h3v1h-3zM403 438h2v1h-2zM405 439h2v1h-2zM407 440h1v1h-1zM408 441h2v1h-2zM410 442h2v1h-2zM412 443h1v1h-1zM413 444h2v1h-2zM415 445h2v1h-2zM417 446h2v1h-2zM419 447h2v1h-2zM421 448h1v1h-1zM422 449h1v1h-1zM423 450h1v1h-1zM424 451h1v1h-1zM425 452h1v1h-1zM426 453h1v1h-1zM427 454h1v1h-1zM428 455h1v1h-1zM429 456h2v1h-2zM431 457h1v1h-1zM432 458h2v1h-2zM434 459h2v1h-2zM436 460h1v1h-1zM437 461h2v1h-2zM439 462h1v1h-1zM440 463h2v1h-2zM442 464h2v1h-2zM444 465h1v1h-1zM445 466h1v1h-1zM446 467h2v1h-2zM448 468h1v1h-1zM449 469h1v1h-1zM450 470h2v1h-2zM452 471h1v1h-1zM453 472h2v1h-2zM455 473h2v1h-2zM457 474h2v1h-2zM459 475h2v1h-2zM461 476h2v1h-2zM463 477h2v1h-2zM465 478h2v1h-2zM467 479h2v1h-2zM469 480h2v1h-2zM471 481h1v1h-1zM472 482h2v1h-2zM474 483h2v1h-2zM476 484h20v1h-20zM496 483h6v1h-6zM502 482h2v1h-2zM504 481h3v1h-3zM507 480h2v1h-2zM509 479h2v1h-2zM511 478h2v1h-2zM513 477h2v1h-2zM515 476h2v1h-2zM517 475h2v1h-2zM519 474h1v1h-1zM520 473h2v1h-2zM522 472h2v1h-2zM524 471h2v1h-2zM526 470h4v1h-4zM530 469h12v1h-12zM542 468h4v1h-4zM546 467h6v1h-6zM552 466h14v1h-14zM566 467h4v1h-4zM570 468h6v1h-6zM576 469h8v1h-8zM584 470h8v1h-8zM592 469h6v1h-6zM598 468h4v1h-4zM602 467h4v1h-4zM606 468h4v1h-4zM610 469h14v1h-14zM624 470h6v1h-6zM630 471h2v1h-2zM632 472h3v1h-3zM635 473h3v1h-3zM638 472h4v1h-4zM642 471h20v1h-20zM662 470h4v1h-4zM666 469h4v1h-4zM670 468h4v1h-4zM674 467h14v1h-14zM688 466h8v1h-8zM696 465h8v1h-8zM704 464h6v1h-6zM710 463h4v1h-4zM714 462h4v1h-4zM718 461h4v1h-4zM722 460h3v1h-3zM725 459h2v1h-2zM727 458h1v1h-1zM728 457h2v1h-2zM730 456h2v1h-2zM732 455h1v1h-1zM733 454h1v1h-1zM734 453h1v1h-1zM735 452h1v1h-1zM736 451h2v1h-2zM738 450h1v1h-1zM739 449h1v1h-1zM740 448h1v1h-1zM741 447h1v1h-1zM742 446h1v1h-1zM743 445h1v1h-1zM744 444h2v1h-2zM746 443h1v1h-1zM747 442h1v1h-1zM748 441h1v1h-1zM749 440h1v1h-1zM750 438h1v2h-1zM751 437h1v1h-1zM752 436h1v1h-1zM753 435h1v1h-1zM754 433h1v2h-1zM755 432h1v1h-1zM756 431h1v1h-1zM757 429h1v2h-1zM758 428h1v1h-1zM759 427h1v1h-1zM760 425h1v2h-1zM761 424h1v1h-1zM762 423h1v1h-1zM763 421h1v2h-1zM764 420h1v1h-1zM765 418h1v2h-1zM766 416h1v2h-1zM767 414h1v2h-1zM768 412h1v2h-1zM769 410h1v2h-1zM770 408h1v2h-1zM771 406h1v2h-1zM772 404h1v2h-1zM773 402h1v2h-1zM774 400h1v2h-1zM775 398h1v2h-1zM776 396h1v2h-1zM777 394h1v2h-1zM778 392h1v2h-1zM779 390h1v2h-1zM780 388h1v2h-1zM781 386h1v2h-1zM782 384h1v2h-1zM783 382h1v2h-1zM784 380h1v2h-1zM785 378h1v2h-1zM786 376h1v2h-1zM787 374h1v2h-1zM788 371h1v3h-1zM789 369h1v2h-1zM790 367h1v2h-1zM791 365h1v2h-1zM792 362h1v3h-1zM793 360h1v2h-1zM794 358h1v2h-1zM795 356h1v2h-1zM796 353h1v3h-1zM797 351h1v2h-1zM798 348h1v3h-1zM799 345h1v3h-1zM800 343h1v2h-1zM801 340h1v3h-1zM802 337h1v3h-1zM803 335h1v2h-1zM804 332h1v3h-1zM805 330h1v2h-1zM806 328h1v2h-1zM807 325h1v3h-1zM808 323h1v2h-1zM809 320h1v3h-1zM810 318h1v2h-1zM811 316h1v2h-1zM812 313h1v3h-1zM813 311h1v2h-1zM814 309h1v2h-1zM815 307h1v2h-1zM816 305h1v2h-1zM817 303h1v2h-1zM818 301h1v2h-1zM819 299h1v2h-1zM820 296h1v3h-1zM821 294h1v2h-1zM822 292h1v2h-1zM823 290h1v2h-1zM824 287h1v3h-1zM825 285h1v2h-1zM826 283h1v2h-1zM827 281h1v2h-1zM828 279h1v2h-1zM829 277h1v2h-1zM830 275h1v2h-1zM831 273h1v2h-1zM832 271h1v2h-1zM833 269h1v2h-1zM834 267h1v2h-1zM835 265h1v2h-1zM836 264h1v1h-1zM837 262h1v2h-1zM838 260h1v2h-1zM839 258h1v2h-1zM840 257h1v1h-1zM841 255h1v2h-1zM842 253h1v2h-1zM843 251h1v2h-1zM844 250h1v1h-1zM845 248h1v2h-1zM846 246h1v2h-1zM847 244h1v2h-1zM848 243h1v1h-1zM849 241h1v2h-1zM850 239h1v2h-1zM851 237h1v2h-1zM852 236h1v1h-1zM853 234h1v2h-1zM854 232h1v2h-1zM855 230h1v2h-1zM856 228h1v2h-1zM857 226h1v2h-1zM858 224h1v2h-1zM859 222h1v2h-1zM860 221h1v1h-1zM861 219h1v2h-1zM862 217h1v2h-1zM863 215h1v2h-1zM864 213h1v2h-1zM865 211h1v2h-1zM866 209h1v2h-1zM867 207h1v2h-1zM868 205h1v2h-1zM869 203h1v2h-1zM870 201h1v2h-1zM871 199h1v2h-1zM872 197h1v2h-1zM873 195h1v2h-1zM874 193h1v2h-1zM875 191h1v2h-1zM876 189h1v2h-1zM877 187h1v2h-1zM878 185h1v2h-1zM879 183h1v2h-1zM880 181h1v2h-1zM881 179h1v2h-1zM882 177h1v2h-1zM883 175h1v2h-1zM884 174h1v1h-1zM885 172h1v2h-1zM886 170h1v2h-1zM887 168h1v2h-1zM888 166h1v2h-1zM889 164h1v2h-1zM890 162h1v2h-1zM891 160h1v2h-1zM892 159h1v1h-1zM893 157h1v2h-1zM894 156h1v1h-1zM895 155h1v1h-1zM896 153h1v2h-1zM897 152h1v1h-1zM898 151h1v1h-1zM899 149h1v2h-1zM900 148h1v1h-1zM901 147h1v1h-1zM902 145h1v2h-1zM903 144h1v1h-1zM904 143h1v1h-1zM905 142h1v1h-1zM906 140h1v2h-1zM907 139h1v1h-1zM908 138h1v1h-1zM909 136h1v2h-1zM910 135h1v1h-1zM911 134h1v1h-1zM912 132h1v2h-1zM913 131h1v1h-1zM914 130h1v1h-1zM915 128h1v2h-1zM916 127h1v1h-1zM917 126h1v1h-1zM918 125h1v1h-1zM919 124h1v1h-1zM920 123h1v1h-1zM921 122h1v1h-1zM922 121h1v1h-1zM923 120h1v1h-1zM924 119h1v1h-1zM925 118h1v1h-1zM926 117h1v1h-1zM927 116h1v1h-1zM928 115h1v1h-1zM929 114h1v1h-1zM930 113h1v1h-1zM931 112h1v1h-1zM932 111h4v1h-4zM936 110h8v1h-8zM944 109h6v1h-6zM950 108h4v1h-4zM954 107h6v1h-6zM960 106h8v1h-8zM968 107h5v1h-5zM973 108h2v1h-2zM975 109h2v1h-2zM977 110h2v1h-2zM979 111h3v1h-3zM982 112h4v1h-4zM986 113h3v1h-3zM989 114h1v1h-1zM990 115h1v1h-1zM991 116h1v1h-1zM992 117h2v1h-2zM994 118h1v1h-1zM995 119h1v1h-1zM996 120h1v1h-1zM997 121h2v1h-2zM999 122h2v1h-2zM1001 123h2v1h-2zM1003 124h2v1h-2zM1005 125h2v1h-2zM1007 126h2v1h-2zM1009 127h2v1h-2zM1011 128h5v1h-5zM1016 129h6v1h-6zM1022 130h2v1h-2zM1024 131h3v1h-3zM1027 132h2v1h-2zM1029 133h2v1h-2zM1031 134h1v1h-1zM1032 135h2v1h-2zM1034 136h2v1h-2zM1036 137h1v1h-1zM1037 138h2v1h-2zM1039 139h1v1h-1zM1040 140h2v1h-2zM1042 141h2v1h-2zM1044 142h1v1h-1zM1045 143h1v1h-1zM1046 144h2v1h-2zM1048 145h1v1h-1zM1049 146h1v1h-1zM1050 147h2v1h-2zM1052 148h2v1h-2zM1054 149h2v1h-2zM1056 150h3v1h-3zM1059 151h2v1h-2zM1061 152h2v1h-2zM1063 153h2v1h-2zM1065 154h2v1h-2zM1067 155h2v1h-2zM1069 156h2v1h-2zM1071 157h2v1h-2zM1073 158h2v1h-2zM1075 159h3v1h-3zM1078 160h2v1h-2zM1080 161h3v1h-3zM1083 162h2v1h-2zM1085 163h2v1h-2zM1087 164h2v1h-2zM1089 165h2v1h-2zM1091 166h2v1h-2zM1093 167h2v1h-2zM1095 168h2v1h-2zM1097 169h2v1h-2zM1099 170h2v1h-2zM1101 171h2v1h-2zM1103 172h2v1h-2zM1105 173h2v1h-2zM1107 174h2v1h-2zM1109 175h2v1h-2zM1111 176h2v1h-2zM1113 177h2v1h-2zM1115 178h2v1h-2zM1117 179h2v1h-2zM1119 180h1v1h-1zM1120 181h2v1h-2zM1122 182h2v1h-2zM1124 183h1v1h-1zM1125 184h2v1h-2zM1127 185h2v1h-2zM1129 186h2v1h-2zM1131 187h2v1h-2zM1133 188h2v1h-2zM1135 189h1v1h-1zM1136 190h2v1h-2zM1138 191h2v1h-2zM1140 192h4v1h-4zM1144 193h6v1h-6zM1150 194h4v1h-4zM1154 195h4v1h-4zM1158 194h4v1h-4zM1162 193h4v1h-4zM1166 192h4v1h-4zM1170 191h14v1h-14zM1184 192h8v1h-8zM1192 193h8v1h-8zM1200 192h6v1h-6zM1206 191h4v1h-4zM1210 190h4v1h-4zM1214 189h2v1h-2zM1216 188h3v1h-3zM1219 187h1v1h-1z"/>
<path fill="#c0c0c0" d="M4 627h1v7h-1zM12 627h1v8h-1zM20 627h1v9h-1zM28 627h1v10h-1zM36 627h1v10h-1zM44 627h1v9h-1zM52 627h1v10h-1zM60 627h1v12h-1zM68 627h1v13h-1zM76 627h1v17h-1zM84 627h1v21h-1zM92 627h1v27h-1zM100 627h1v31h-1zM108 627h1v33h-1zM116 627h1v35h-1zM124 627h1v35h-1zM132 627h1v32h-1zM140 627h1v30h-1zM148 627h1v27h-1zM156 627h1v26h-1zM164 627h1v24h-1zM172 627h1v26h-1zM180 627h1v28h-1zM188 627h1v29h-1zM196 627h1v33h-1zM204 627h1v35h-1zM212 627h1v33h-1zM220 627h1v29h-1zM228 627h1v27h-1zM236 627h1v24h-1zM244 627h1v21h-1zM252 627h1v18h-1zM260 627h1v14h-1zM268 627h1v13h-1zM276 627h1v12h-1zM284 627h1v10h-1zM292 627h1v10h-1zM300 627h1v9h-1zM308 627h1v11h-1zM316 627h1v15h-1zM324 627h1v17h-1zM332 627h1v20h-1zM340 627h1v23h-1zM348 627h1v26h-1zM356 627h1v28h-1zM364 627h1v28h-1zM372 627h1v26h-1zM380 627h1v25h-1zM388 627h1v24h-1zM396 627h1v22h-1zM404 627h1v19h-1zM412 627h1v17h-1zM420 627h1v15h-1zM428 627h1v14h-1zM436 627h1v15h-1zM444 627h1v13h-1zM452 627h1v12h-1zM460 627h1v11h-1zM468 627h1v10h-1zM476 627h1v12h-1zM484 627h1v11h-1zM492 627h1v9h-1zM500 627h1v9h-1zM508 627h1v8h-1zM516 627h1v5h-1zM524 627h1v3h-1zM532 627h1v3h-1zM540 627h1v3h-1zM548 627h1v2h-1zM556 627h1v3h-1zM564 627h1v3h-1zM572 627h1v4h-1zM580 627h1v3h-1zM588 627h1v3h-1zM596 627h1v3h-1zM604 627h1v2h-1zM612 627h1v3h-1zM620 627h1v4h-1zM628 627h1v3h-1zM636 627h1v6h-1zM644 627h1v6h-1zM652 627h1v5h-1zM660 627h1v3h-1zM668 627h1v1h-1zM676 626h1v2h-1zM684 625h1v3h-1zM692 624h1v4h-1zM700 623h1v5h-1zM708 623h1v5h-1zM716 622h1v6h-1zM724 621h1v7h-1zM732 618h1v10h-1zM740 614h1v14h-1zM748 611h1v17h-1zM756 605h1v23h-1zM764 601h1v27h-1zM772 592h1v36h-1zM780 586h1v42h-1zM788 583h1v45h-1zM796 578h1v50h-1zM804 574h1v54h-1zM812 572h1v56h-1zM820 572h1v56h-1zM828 572h1v56h-1zM836 573h1v55h-1zM844 576h1v52h-1zM852 579h1v49h-1zM860 581h1v47h-1zM868 582h1v46h-1zM876 583h1v45h-1zM884 585h1v43h-1zM892 588h1v40h-1zM900 590h1v38h-1zM908 592h1v36h-1zM916 594h1v34h-1zM924 594h1v34h-1zM932 595h1v33h-1zM940 597h1v31h-1zM948 600h1v28h-1zM956 601h1v27h-1zM964 603h1v25h-1zM972 604h1v24h-1zM980 608h1v20h-1zM988 612h1v16h-1zM996 618h1v10h-1zM1004 622h1v6h-1zM1012 625h1v3h-1zM1020 626h1v2h-1zM1028 627h1v1h-1zM1036 627h1v2h-1zM1044 627h1v3h-1zM1052 627h1v5h-1zM1060 627h1v5h-1zM1068 627h1v5h-1zM1076 627h1v5h-1zM1084 627h1v4h-1zM1092 627h1v3h-1zM1100 627h1v2h-1zM1108 627h1v3h-1zM1116 627h1v3h-1zM1124 627h1v3h-1zM1132 627h1v4h-1zM1140 627h1v3h-1zM1148 627h1v3h-1zM1156 627h1v4h-1zM1164 627h1v3h-1zM1172 627h1v3h-1zM1180 627h1v2h-1zM1188 627h1v3h-1zM1196 627h1v3h-1zM1204 627h1v3h-1zM1212 627h1v1h-1zM1220 627h1v1h-1z"/>
<path fill="#ff0000" d="M4 636h3v1h-3zM10 635h3v1h-3zM16 635h3v1h-3zM22 635h3v1h-3zM28 635h3v1h-3zM34 635h3v1h-3zM40 635h3v1h-3zM46 635h2v1h-2zM48 636h1v1h-1zM52 636h3v1h-3zM58 637h3v1h-3zM64 637h3v1h-3zM70 637h2v1h-2zM72 638h1v1h-1zM76 638h2v1h-2zM78 639h1v1h-1zM82 640h3v1h-3zM88 641h2v1h-2zM90 642h1v1h-1zM94 643h3v1h-3zM100 644h2v1h-2zM102 645h1v1h-1zM106 646h1v1h-1zM107 647h2v1h-2zM112 649h3v1h-3zM118 651h2v1h-2zM120 652h1v1h-1zM124 653h2v1h-2zM126 654h1v1h-1zM130 655h3v1h-3zM136 656h2v1h-2zM138 657h1v1h-1zM142 657h2v1h-2zM144 658h1v1h-1zM148 658h3v1h-3zM154 658h3v1h-3zM160 658h3v1h-3zM166 658h3v1h-3zM172 658h3v1h-3zM178 657h3v1h-3zM184 656h3v1h-3zM190 656h3v1h-3zM196 656h3v1h-3zM202 656h3v1h-3zM208 657h3v1h-3zM214 657h3v1h-3zM220 657h3v1h-3zM226 657h3v1h-3zM232 657h3v1h-3zM238 657h2v1h-2zM240 656h1v1h-1zM244 656h3v1h-3zM250 655h3v1h-3zM256 654h2v1h-2zM258 653h1v1h-1zM262 652h3v1h-3zM268 651h2v1h-2zM270 650h1v1h-1zM274 649h3v1h-3zM280 647h3v1h-3zM286 645h3v1h-3zM292 644h2v1h-2zM294 643h1v1h-1zM298 642h3v1h-3zM304 641h2v1h-2zM306 640h1v1h-1zM310 640h3v1h-3zM316 640h3v1h-3zM322 640h3v1h-3zM328 640h3v1h-3zM334 640h2v1h-2zM336 641h1v1h-1zM340 641h2v1h-2zM342 642h1v1h-1zM346 643h3v1h-3zM352 644h2v1h-2zM354 645h1v1h-1zM358 646h3v1h-3zM364 647h2v1h-2zM366 648h1v1h-1zM370 649h3v1h-3zM376 650h2v1h-2zM378 651h1v1h-1zM382 651h2v1h-2zM384 652h1v1h-1zM388 652h3v1h-3zM394 652h3v1h-3zM400 652h3v1h-3zM406 652h2v1h-2zM408 651h1v1h-1zM412 651h3v1h-3zM418 650h3v1h-3zM424 649h3v1h-3zM430 648h3v1h-3zM436 647h3v1h-3zM442 646h3v1h-3zM448 645h2v1h-2zM450 644h1v1h-1zM454 644h2v1h-2zM456 643h1v1h-1zM460 643h2v1h-2zM462 642h1v1h-1zM466 641h3v1h-3zM472 640h3v1h-3zM478 640h3v1h-3zM484 640h3v1h-3zM490 639h3v1h-3zM496 639h3v1h-3zM502 639h2v1h-2zM504 638h1v1h-1zM508 638h3v1h-3zM514 637h3v1h-3zM520 636h3v1h-3zM526 636h2v1h-2zM528 635h1v1h-1zM532 635h3v1h-3zM538 634h3v1h-3zM544 633h3v1h-3zM550 633h2v1h-2zM552 632h1v1h-1zM556 632h3v1h-3zM562 631h3v1h-3zM568 631h3v1h-3zM574 631h2v1h-2zM576 630h1v1h-1zM580 630h3v1h-3zM586 630h3v1h-3zM592 630h3v1h-3zM598 630h3v1h-3zM604 630h3v1h-3zM610 630h3v1h-3zM616 630h3v1h-3zM622 630h3v1h-3zM628 630h3v1h-3zM634 631h3v1h-3zM640 631h3v1h-3zM646 631h3v1h-3zM652 631h3v1h-3zM658 631h3v1h-3zM664 631h3v1h-3zM670 631h2v1h-2zM672 630h1v1h-1zM676 630h3v1h-3zM682 630h3v1h-3zM688 629h3v1h-3zM694 629h2v1h-2zM696 628h1v1h-1zM700 628h3v1h-3zM706 627h3v1h-3zM712 626h3v1h-3zM718 626h2v1h-2zM720 625h1v1h-1zM724 625h2v1h-2zM726 624h1v1h-1zM730 623h3v1h-3zM736 622h2v1h-2zM738 621h1v1h-1zM742 621h2v1h-2zM744 620h1v1h-1zM748 620h2v1h-2zM750 619h1v1h-1zM754 618h3v1h-3zM760 616h3v1h-3zM766 614h1v1h-1zM767 613h2v1h-2zM772 611h1v1h-1zM773 610h2v1h-2zM778 608h1v1h-1zM779 607h2v1h-2zM784 605h1v1h-1zM785 604h2v1h-2zM790 602h1v1h-1zM791 601h1v1h-1zM792 600h1v1h-1zM796 598h1v1h-1zM797 597h2v1h-2zM802 594h2v1h-2zM804 593h1v1h-1zM808 590h2v1h-2zM810 589h1v1h-1zM814 587h1v1h-1zM815 586h2v1h-2zM820 584h1v1h-1zM821 583h2v1h-2zM826 581h1v1h-1zM827 580h2v1h-2zM832 578h3v1h-3zM838 576h3v1h-3zM844 575h3v1h-3zM850 574h3v1h-3zM856 574h3v1h-3zM862 574h3v1h-3zM868 574h3v1h-3zM874 575h3v1h-3zM880 576h2v1h-2zM882 577h1v1h-1zM886 578h3v1h-3zM892 579h2v1h-2zM894 580h1v1h-1zM898 581h3v1h-3zM904 582h2v1h-2zM906 583h1v1h-1zM910 584h3v1h-3zM916 585h2v1h-2zM918 586h1v1h-1zM922 587h3v1h-3zM928 588h3v1h-3zM934 589h3v1h-3zM940 590h2v1h-2zM942 591h1v1h-1zM946 592h3v1h-3zM952 593h2v1h-2zM954 594h1v1h-1zM958 594h2v1h-2zM960 595h1v1h-1zM964 595h2v1h-2zM966 596h1v1h-1zM970 597h3v1h-3zM976 598h2v1h-2zM978 599h1v1h-1zM982 600h3v1h-3zM988 601h2v1h-2zM990 602h1v1h-1zM994 603h1v1h-1zM995 604h2v1h-2zM1000 606h3v1h-3zM1006 608h2v1h-2zM1008 609h1v1h-1zM1012 610h2v1h-2zM1014 611h1v1h-1zM1018 612h1v1h-1zM1019 613h2v1h-2zM1024 615h3v1h-3zM1030 617h2v1h-2zM1032 618h1v1h-1zM1036 619h2v1h-2zM1038 620h1v1h-1zM1042 621h1v1h-1zM1043 622h2v1h-2zM1048 623h2v1h-2zM1050 624h1v1h-1zM1054 625h2v1h-2zM1056 626h1v1h-1zM1060 627h3v1h-3zM1066 628h3v1h-3zM1072 629h3v1h-3zM1078 629h2v1h-2zM1080 630h1v1h-1zM1084 630h3v1h-3zM1090 631h3v1h-3zM1096 631h3v1h-3zM1102 631h3v1h-3zM1108 631h3v1h-3zM1114 631h3v1h-3zM1120 631h3v1h-3zM1126 631h3v1h-3zM1132 631h3v1h-3zM1138 630h3v1h-3zM1144 630h3v1h-3zM1150 630h3v1h-3zM1156 630h3v1h-3zM1162 630h3v1h-3zM1168 630h3v1h-3zM1174 630h3v1h-3zM1180 630h3v1h-3zM1186 630h3v1h-3zM1192 630h3v1h-3zM1198 630h3v1h-3zM1204 630h3v1h-3zM1210 630h3v1h-3zM1216 629h3v1h-3z"/>
<text x="8" y="578" font-size="9.8" fill="#000" textLength="65" lengthAdjust="spacingAndGlyphs" stroke="#000" stroke-width="0.15" >MACD(12,26,9)</text>
<text x="76" y="578" font-size="9.8" fill="#000" textLength="41" lengthAdjust="spacingAndGlyphs" stroke="#000" stroke-width="0.15" >-0.000567</text>
<text x="121" y="578" font-size="9.8" fill="#000" textLength="41" lengthAdjust="spacingAndGlyphs" stroke="#000" stroke-width="0.15" >-0.002425</text>
<path stroke="#c0c0c0" stroke-width="1" stroke-dasharray="3 3" d="M4 710.5H1419"/>
<path stroke="#c0c0c0" stroke-width="1" stroke-dasharray="3 3" d="M4 761.5H1419"/>
<path fill="#1e90ff" d="M4 745h2v1h-2zM6 744h4v1h-4zM10 743h3v1h-3zM13 744h2v1h-2zM15 745h2v1h-2zM17 746h2v1h-2zM19 747h10v1h-10zM29 746h1v1h-1zM30 745h1v1h-1zM31 744h1v1h-1zM32 743h2v1h-2zM34 742h1v1h-1zM35 741h1v1h-1zM36 740h4v1h-4zM40 741h5v1h-5zM45 742h2v1h-2zM47 743h1v1h-1zM48 744h2v1h-2zM50 745h2v1h-2zM52 746h1v1h-1zM53 747h1v1h-1zM54 748h2v1h-2zM56 749h1v1h-1zM57 750h1v1h-1zM58 751h2v1h-2zM60 752h2v1h-2zM62 751h2v1h-2zM64 750h3v1h-3zM67 749h2v1h-2zM69 750h1v2h-1zM70 752h1v1h-1zM71 753h1v1h-1zM72 754h1v2h-1zM73 756h1v1h-1zM74 757h1v1h-1zM75 758h1v2h-1zM76 760h2v1h-2zM78 761h2v1h-2zM80 762h3v1h-3zM83 763h2v1h-2zM85 764h2v1h-2zM87 765h1v1h-1zM88 766h2v1h-2zM90 767h2v1h-2zM92 768h9v1h-9zM101 767h2v1h-2zM103 766h1v1h-1zM104 765h2v1h-2zM106 764h2v1h-2zM108 763h2v1h-2zM110 764h4v1h-4zM114 765h3v1h-3zM117 764h1v1h-1zM118 763h1v1h-1zM119 762h1v1h-1zM120 761h1v1h-1zM121 760h1v1h-1zM122 759h1v1h-1zM123 758h1v1h-1zM124 757h1v1h-1zM125 755h1v2h-1zM126 754h1v1h-1zM127 753h1v1h-1zM128 751h1v2h-1zM129 750h1v1h-1zM130 749h1v1h-1zM131 747h1v2h-1zM132 746h4v1h-4zM136 747h5v1h-5zM141 746h2v1h-2zM143 745h2v1h-2zM145 744h2v1h-2zM147 743h2v1h-2zM149 744h1v1h-1zM150 745h2v1h-2zM152 746h1v1h-1zM153 747h1v1h-1zM154 748h2v1h-2zM156 749h2v1h-2zM158 748h2v1h-2zM160 747h3v1h-3zM163 746h2v1h-2zM165 747h1v2h-1zM166 749h1v1h-1zM167 750h1v1h-1zM168 751h1v2h-1zM169 753h1v1h-1zM170 754h1v1h-1zM171 755h1v2h-1zM172 757h4v1h-4zM176 756h8v1h-8zM184 757h5v1h-5zM189 758h1v1h-1zM190 759h1v1h-1zM191 760h1v1h-1zM192 761h1v1h-1zM193 762h1v1h-1zM194 763h1v1h-1zM195 764h1v1h-1zM196 765h4v1h-4zM200 764h5v1h-5zM204 763h1v1h-1zM205 761h1v2h-1zM206 759h1v2h-1zM207 757h1v2h-1zM208 754h1v3h-1zM209 752h1v2h-1zM210 750h1v2h-1zM211 748h1v2h-1zM212 746h1v2h-1zM213 745h1v1h-1zM214 744h2v1h-2zM216 743h1v1h-1zM217 742h1v1h-1zM218 741h2v1h-2zM220 740h1v1h-1zM221 741h2v1h-2zM223 742h2v1h-2zM225 743h2v1h-2zM227 744h2v1h-2zM229 743h2v1h-2zM231 742h2v1h-2zM233 741h2v1h-2zM235 740h3v1h-3zM238 739h2v1h-2zM240 738h3v1h-3zM243 737h10v1h-10zM253 736h2v1h-2zM255 735h2v1h-2zM257 734h2v1h-2zM259 733h2v1h-2zM261 734h1v1h-1zM262 735h1v1h-1zM263 736h1v1h-1zM264 737h1v1h-1zM265 738h1v1h-1zM266 739h1v1h-1zM267 740h1v1h-1zM268 741h1v1h-1zM269 740h2v1h-2zM271 739h2v1h-2zM273 738h2v1h-2zM275 737h5v1h-5zM280 738h6v1h-6zM286 739h2v1h-2zM288 740h3v1h-3zM291 741h5v1h-5zM296 740h5v1h-5zM301 741h1v1h-1zM302 742h1v1h-1zM303 743h1v1h-1zM304 744h1v1h-1zM305 745h1v1h-1zM306 746h1v1h-1zM307 747h1v1h-1zM308 748h1v1h-1zM309 749h1v1h-1zM310 750h2v1h-2zM312 751h1v1h-1zM313 752h1v1h-1zM314 753h2v1h-2zM316 754h1v1h-1zM317 753h2v1h-2zM319 752h2v1h-2zM321 751h2v1h-2zM323 750h2v1h-2zM325 751h2v1h-2zM327 752h1v1h-1zM328 753h2v1h-2zM330 754h2v1h-2zM332 755h2v1h-2zM334 756h2v1h-2zM336 757h3v1h-3zM339 758h13v1h-13zM352 759h5v1h-5zM357 758h1v1h-1zM358 757h2v1h-2zM360 756h1v1h-1zM361 755h1v1h-1zM362 754h2v1h-2zM364 753h1v1h-1zM365 752h1v1h-1zM366 751h1v1h-1zM367 750h1v1h-1zM368 749h1v1h-1zM369 748h1v1h-1zM370 747h1v1h-1zM371 746h1v1h-1zM372 745h2v1h-2zM374 746h4v1h-4zM378 747h6v1h-6zM384 748h5v1h-5zM389 747h2v1h-2zM391 746h2v1h-2zM393 745h2v1h-2zM395 744h2v1h-2zM397 743h1v1h-1zM398 742h1v1h-1zM399 741h1v1h-1zM400 740h2v1h-2zM402 739h1v1h-1zM403 738h1v1h-1zM404 737h4v1h-4zM408 738h13v1h-13zM421 739h1v1h-1zM422 740h1v1h-1zM423 741h1v1h-1zM424 742h2v1h-2zM426 743h1v1h-1zM427 744h1v1h-1zM428 745h2v1h-2zM430 746h4v1h-4zM434 747h3v1h-3zM437 746h1v1h-1zM438 745h1v1h-1zM439 744h1v1h-1zM440 743h1v1h-1zM441 742h1v1h-1zM442 741h1v1h-1zM443 740h1v1h-1zM444 739h2v1h-2zM446 740h2v1h-2zM448 741h3v1h-3zM451 742h3v1h-3zM454 741h2v1h-2zM456 740h3v1h-3zM459 739h5v1h-5zM464 740h5v1h-5zM469 741h1v2h-1zM470 743h1v1h-1zM471 744h1v1h-1zM472 745h1v2h-1zM473 747h1v1h-1zM474 748h1v1h-1zM475 749h1v2h-1zM476 751h1v1h-1zM477 750h1v1h-1zM478 748h1v2h-1zM479 747h1v1h-1zM480 746h1v1h-1zM481 745h1v1h-1zM482 743h1v2h-1zM483 742h1v1h-1zM484 741h1v1h-1zM485 740h1v1h-1zM486 739h2v1h-2zM488 738h1v1h-1zM489 737h1v1h-1zM490 736h2v1h-2zM492 735h1v1h-1zM493 736h2v1h-2zM495 737h2v1h-2zM497 738h2v1h-2zM499 739h3v1h-3zM502 738h2v1h-2zM504 737h3v1h-3zM507 736h2v1h-2zM509 735h2v1h-2zM511 734h1v1h-1zM512 733h2v1h-2zM514 732h2v1h-2zM516 731h9v1h-9zM525 732h1v1h-1zM526 733h2v1h-2zM528 734h1v1h-1zM529 735h1v1h-1zM530 736h2v1h-2zM532 737h10v1h-10zM542 736h4v1h-4zM546 735h3v1h-3zM549 736h2v1h-2zM551 737h1v1h-1zM552 738h2v1h-2zM554 739h2v1h-2zM556 740h4v1h-4zM560 739h6v1h-6zM566 740h4v1h-4zM570 741h3v1h-3zM573 740h2v1h-2zM575 739h2v1h-2zM577 738h2v1h-2zM579 737h13v1h-13zM592 738h5v1h-5zM597 737h2v1h-2zM599 736h1v1h-1zM600 735h2v1h-2zM602 734h2v1h-2zM604 733h1v1h-1zM605 734h1v1h-1zM606 735h1v1h-1zM607 736h1v1h-1zM608 737h1v2h-1zM609 739h1v1h-1zM610 740h1v1h-1zM611 741h1v1h-1zM612 742h4v1h-4zM616 743h5v1h-5zM621 742h2v1h-2zM623 741h1v1h-1zM624 740h2v1h-2zM626 739h2v1h-2zM628 738h1v1h-1zM629 739h1v2h-1zM630 741h1v2h-1zM631 743h1v2h-1zM632 745h1v1h-1zM633 746h1v2h-1zM634 748h1v2h-1zM635 750h1v2h-1zM636 752h1v1h-1zM637 750h1v2h-1zM638 749h1v1h-1zM639 747h1v2h-1zM640 746h1v1h-1zM641 744h1v2h-1zM642 743h1v1h-1zM643 741h1v2h-1zM644 740h1v1h-1zM645 739h2v1h-2zM647 738h2v1h-2zM649 737h2v1h-2zM651 736h2v1h-2zM653 735h2v1h-2zM655 734h1v1h-1zM656 733h2v1h-2zM658 732h2v1h-2zM660 731h2v1h-2zM662 730h2v1h-2zM664 729h3v1h-3zM667 728h2v1h-2zM669 727h2v1h-2zM671 726h2v1h-2zM673 725h2v1h-2zM675 724h2v1h-2zM677 725h2v1h-2zM679 726h2v1h-2zM681 727h2v1h-2zM683 728h18v1h-18zM701 729h2v1h-2zM703 730h2v1h-2zM705 731h2v1h-2zM707 732h2v1h-2zM709 731h1v1h-1zM710 730h1v1h-1zM711 729h1v1h-1zM712 728h2v1h-2zM714 727h1v1h-1zM715 726h1v1h-1zM716 725h1v1h-1zM717 726h2v1h-2zM719 727h1v1h-1zM720 728h2v1h-2zM722 729h2v1h-2zM724 730h1v1h-1zM725 728h1v2h-1zM726 726h1v2h-1zM727 724h1v2h-1zM728 722h1v2h-1zM729 720h1v2h-1zM730 718h1v2h-1zM731 716h1v2h-1zM732 715h1v1h-1zM732 714h2v1h-2zM734 713h4v1h-4zM738 712h4v1h-4zM742 711h4v1h-4zM746 710h3v1h-3zM749 709h1v1h-1zM750 708h1v1h-1zM751 707h1v1h-1zM752 706h2v1h-2zM754 705h1v1h-1zM755 704h1v1h-1zM756 703h4v1h-4zM760 702h5v1h-5zM765 701h1v1h-1zM766 700h1v1h-1zM767 699h1v1h-1zM768 697h1v2h-1zM769 696h1v1h-1zM770 695h1v1h-1zM771 694h1v1h-1zM772 693h1v1h-1zM773 694h1v1h-1zM774 695h2v1h-2zM776 696h1v1h-1zM777 697h1v1h-1zM778 698h2v1h-2zM780 699h4v1h-4zM784 698h6v1h-6zM790 697h2v1h-2zM792 696h3v1h-3zM795 695h5v1h-5zM800 694h5v1h-5zM805 695h2v1h-2zM807 696h1v1h-1zM808 697h2v1h-2zM810 698h2v1h-2zM812 699h2v1h-2zM814 700h2v1h-2zM816 701h3v1h-3zM819 702h5v1h-5zM824 701h5v1h-5zM829 702h2v1h-2zM831 703h2v1h-2zM833 704h2v1h-2zM835 705h2v1h-2zM837 706h1v1h-1zM838 707h2v1h-2zM840 708h1v1h-1zM841 709h1v1h-1zM842 710h2v1h-2zM844 711h2v1h-2zM846 712h4v1h-4zM850 713h4v1h-4zM854 712h4v1h-4zM858 711h4v1h-4zM862 710h4v1h-4zM866 709h6v1h-6zM872 708h6v1h-6zM878 709h4v1h-4zM882 710h3v1h-3zM885 711h1v1h-1zM886 712h1v1h-1zM887 713h1v1h-1zM888 714h2v1h-2zM890 715h1v1h-1zM891 716h1v1h-1zM892 717h4v1h-4zM896 716h6v1h-6zM902 715h4v1h-4zM906 714h11v1h-11zM917 713h2v1h-2zM919 712h2v1h-2zM921 711h2v1h-2zM923 710h10v1h-10zM933 711h1v2h-1zM934 713h1v1h-1zM935 714h1v1h-1zM936 715h1v2h-1zM937 717h1v1h-1zM938 718h1v1h-1zM939 719h1v2h-1zM940 721h10v1h-10zM950 720h4v1h-4zM954 719h6v1h-6zM960 718h6v1h-6zM966 719h4v1h-4zM970 720h3v1h-3zM972 721h1v1h-1zM973 722h1v2h-1zM974 724h1v2h-1zM975 726h1v3h-1zM976 729h1v2h-1zM977 731h1v3h-1zM978 734h1v2h-1zM979 736h1v2h-1zM980 738h1v1h-1zM980 739h4v1h-4zM984 740h5v1h-5zM989 741h1v2h-1zM990 743h1v1h-1zM991 744h1v1h-1zM992 745h1v2h-1zM993 747h1v1h-1zM994 748h1v1h-1zM995 749h1v2h-1zM996 751h2v1h-2zM998 750h4v1h-4zM1002 749h3v1h-3zM1005 748h2v1h-2zM1007 747h1v1h-1zM1008 746h2v1h-2zM1010 745h2v1h-2zM1012 744h1v1h-1zM1013 743h2v1h-2zM1015 742h2v1h-2zM1017 741h2v1h-2zM1019 740h10v1h-10zM1029 741h2v1h-2zM1031 742h1v1h-1zM1032 743h2v1h-2zM1034 744h2v1h-2zM1036 745h4v1h-4zM1040 746h5v1h-5zM1045 747h2v1h-2zM1047 748h1v1h-1zM1048 749h2v1h-2zM1050 750h2v1h-2zM1052 751h1v1h-1zM1053 749h1v2h-1zM1054 747h1v2h-1zM1055 746h1v1h-1zM1056 744h1v2h-1zM1057 743h1v1h-1zM1058 741h1v2h-1zM1059 739h1v2h-1zM1060 738h9v1h-9zM1069 739h2v1h-2zM1071 740h2v1h-2zM1073 741h2v1h-2zM1075 742h2v1h-2zM1077 741h1v1h-1zM1078 739h1v2h-1zM1079 738h1v1h-1zM1080 737h1v1h-1zM1081 736h1v1h-1zM1082 734h1v2h-1zM1083 733h1v1h-1zM1084 732h2v1h-2zM1086 733h2v1h-2zM1088 734h3v1h-3zM1091 735h3v1h-3zM1094 734h4v1h-4zM1098 733h3v1h-3zM1101 734h1v1h-1zM1102 735h1v1h-1zM1103 736h1v1h-1zM1104 737h1v2h-1zM1105 739h1v1h-1zM1106 740h1v1h-1zM1107 741h1v1h-1zM1108 742h2v1h-2zM1110 741h4v1h-4zM1114 740h4v1h-4zM1118 739h4v1h-4zM1122 738h4v1h-4zM1126 739h2v1h-2zM1128 740h3v1h-3zM1131 741h2v1h-2zM1133 740h2v1h-2zM1135 739h2v1h-2zM1137 738h2v1h-2zM1139 737h3v1h-3zM1142 738h4v1h-4zM1146 739h4v1h-4zM1150 740h4v1h-4zM1154 741h3v1h-3zM1157 740h2v1h-2zM1159 739h1v1h-1zM1160 738h2v1h-2zM1162 737h2v1h-2zM1164 736h12v1h-12zM1176 735h5v1h-5zM1181 736h1v1h-1zM1182 737h2v1h-2zM1184 738h1v1h-1zM1185 739h1v1h-1zM1186 740h2v1h-2zM1188 741h4v1h-4zM1192 742h5v1h-5zM1197 741h1v1h-1zM1198 740h2v1h-2zM1200 739h1v1h-1zM1201 738h1v1h-1zM1202 737h2v1h-2zM1204 736h1v1h-1zM1205 735h1v1h-1zM1206 734h1v1h-1zM1207 733h1v1h-1zM1208 732h2v1h-2zM1210 731h1v1h-1zM1211 730h1v1h-1zM1212 729h2v1h-2zM1214 730h4v1h-4zM1218 731h2v1h-2z"/>
<text x="8" y="683" font-size="9.8" fill="#000" textLength="32" lengthAdjust="spacingAndGlyphs" stroke="#000" stroke-width="0.15" >RSI(14)</text>
<text x="43" y="683" font-size="9.8" fill="#000" textLength="33" lengthAdjust="spacingAndGlyphs" stroke="#000" stroke-width="0.15" >53.3029</text>
<path fill="#c8c8c8" d="M4 795v5h5z"/>
<rect x="1420" y="32" width="2" height="1" fill="#000" />
<text x="1425" y="36" font-size="9.8" fill="#000" textLength="33" lengthAdjust="spacingAndGlyphs" stroke="#000" stroke-width="0.15" >6.97200</text>
<rect x="1420" y="65" width="2" height="1" fill="#000" />
<text x="1425" y="69" font-size="9.8" fill="#000" textLength="33" lengthAdjust="spacingAndGlyphs" stroke="#000" stroke-width="0.15" >6.95275</text>
<rect x="1420" y="98" width="2" height="1" fill="#000" />
<text x="1425" y="102" font-size="9.8" fill="#000" textLength="33" lengthAdjust="spacingAndGlyphs" stroke="#000" stroke-width="0.15" >6.93295</text>
<rect x="1420" y="131" width="2" height="1" fill="#000" />
<text x="1425" y="135" font-size="9.8" fill="#000" textLength="33" lengthAdjust="spacingAndGlyphs" stroke="#000" stroke-width="0.15" >6.91370</text>
<rect x="1420" y="164" width="2" height="1" fill="#000" />
<text x="1425" y="168" font-size="9.8" fill="#000" textLength="33" lengthAdjust="spacingAndGlyphs" stroke="#000" stroke-width="0.15" >6.89445</text>
<rect x="1420" y="197" width="2" height="1" fill="#000" />
<text x="1425" y="201" font-size="9.8" fill="#000" textLength="33" lengthAdjust="spacingAndGlyphs" stroke="#000" stroke-width="0.15" >6.87520</text>
<rect x="1420" y="230" width="2" height="1" fill="#000" />
<text x="1425" y="234" font-size="9.8" fill="#000" textLength="33" lengthAdjust="spacingAndGlyphs" stroke="#000" stroke-width="0.15" >6.85595</text>
<rect x="1420" y="263" width="2" height="1" fill="#000" />
<text x="1425" y="267" font-size="9.8" fill="#000" textLength="33" lengthAdjust="spacingAndGlyphs" stroke="#000" stroke-width="0.15" >6.83670</text>
<rect x="1420" y="296" width="2" height="1" fill="#000" />
<text x="1425" y="300" font-size="9.8" fill="#000" textLength="33" lengthAdjust="spacingAndGlyphs" stroke="#000" stroke-width="0.15" >6.81745</text>
<rect x="1420" y="329" width="2" height="1" fill="#000" />
<text x="1425" y="333" font-size="9.8" fill="#000" textLength="33" lengthAdjust="spacingAndGlyphs" stroke="#000" stroke-width="0.15" >6.79820</text>
<rect x="1420" y="362" width="2" height="1" fill="#000" />
<text x="1425" y="366" font-size="9.8" fill="#000" textLength="33" lengthAdjust="spacingAndGlyphs" stroke="#000" stroke-width="0.15" >6.77895</text>
<rect x="1420" y="428" width="2" height="1" fill="#000" />
<text x="1425" y="432" font-size="9.8" fill="#000" textLength="33" lengthAdjust="spacingAndGlyphs" stroke="#000" stroke-width="0.15" >6.74045</text>
<rect x="1420" y="461" width="2" height="1" fill="#000" />
<text x="1425" y="465" font-size="9.8" fill="#000" textLength="33" lengthAdjust="spacingAndGlyphs" stroke="#000" stroke-width="0.15" >6.72120</text>
<rect x="1420" y="494" width="2" height="1" fill="#000" />
<text x="1425" y="498" font-size="9.8" fill="#000" textLength="33" lengthAdjust="spacingAndGlyphs" stroke="#000" stroke-width="0.15" >6.70195</text>
<rect x="1420" y="527" width="2" height="1" fill="#000" />
<text x="1425" y="531" font-size="9.8" fill="#000" textLength="33" lengthAdjust="spacingAndGlyphs" stroke="#000" stroke-width="0.15" >6.68270</text>
<rect x="1420" y="560" width="2" height="1" fill="#000" />
<text x="1425" y="564" font-size="9.8" fill="#000" textLength="33" lengthAdjust="spacingAndGlyphs" stroke="#000" stroke-width="0.15" >6.66345</text>
<rect x="3" y="50" width="1417" height="3" fill="#ff0000" />
<rect x="1420" y="51" width="1" height="1" fill="#ff0000" />
<rect x="1421" y="45" width="39" height="11" fill="#ff0000" />
<text x="1425" y="54" font-size="9.8" fill="#fff" textLength="33" lengthAdjust="spacingAndGlyphs" stroke="#fff" stroke-width="0.15" >6.96044</text>
<rect x="3" y="152" width="1417" height="3" fill="#00ff00" />
<rect x="1420" y="153" width="1" height="1" fill="#00ff00" />
<rect x="1421" y="147" width="39" height="11" fill="#00ff00" />
<text x="1425" y="156" font-size="9.8" fill="#fff" textLength="33" lengthAdjust="spacingAndGlyphs" stroke="#fff" stroke-width="0.15" >6.90100</text>
<rect x="3" y="289" width="1417" height="3" fill="#0000ff" />
<rect x="1420" y="290" width="1" height="1" fill="#0000ff" />
<rect x="1421" y="284" width="39" height="11" fill="#0000ff" />
<text x="1425" y="293" font-size="9.8" fill="#fff" textLength="33" lengthAdjust="spacingAndGlyphs" stroke="#fff" stroke-width="0.15" >6.82103</text>
<rect x="3" y="397" width="1417" height="3" fill="#0000ff" />
<rect x="1420" y="398" width="1" height="1" fill="#0000ff" />
<rect x="1421" y="392" width="39" height="11" fill="#0000ff" />
<text x="1425" y="401" font-size="9.8" fill="#fff" textLength="33" lengthAdjust="spacingAndGlyphs" stroke="#fff" stroke-width="0.15" >6.75804</text>
<rect x="1421" y="169" width="39" height="11" fill="#000" />
<text x="1425" y="178" font-size="9.8" fill="#fff" textLength="33" lengthAdjust="spacingAndGlyphs" stroke="#fff" stroke-width="0.15" >6.88899</text>
<path fill="#000" d="M6.500 36h8l-4-4z" shape-rendering="auto"/>
<text x="19" y="36" font-size="9.8" fill="#000" textLength="69" lengthAdjust="spacingAndGlyphs" stroke="#000" stroke-width="0.15" >USDCNH-,Daily</text>
<text x="94" y="36" font-size="9.8" fill="#000" textLength="33" lengthAdjust="spacingAndGlyphs" stroke="#000" stroke-width="0.15" >6.89230</text>
<text x="130" y="36" font-size="9.8" fill="#000" textLength="33" lengthAdjust="spacingAndGlyphs" stroke="#000" stroke-width="0.15" >6.89345</text>
<text x="166" y="36" font-size="9.8" fill="#000" textLength="33" lengthAdjust="spacingAndGlyphs" stroke="#000" stroke-width="0.15" >6.88828</text>
<text x="202" y="36" font-size="9.8" fill="#000" textLength="33" lengthAdjust="spacingAndGlyphs" stroke="#000" stroke-width="0.15" >6.88899</text>
<path fill="#c0c0c0" d="M1130 25h9l-4.5 5z"/>
<defs><linearGradient id="gt" x1="0" y1="0" x2="0" y2="1"><stop offset="0" stop-color="#fa5252"/><stop offset="1" stop-color="#e23232"/></linearGradient><linearGradient id="gb" x1="0" y1="0" x2="0" y2="1"><stop offset="0" stop-color="#de3030"/><stop offset="1" stop-color="#ae0000"/></linearGradient><linearGradient id="gs" x1="0" y1="0" x2="0" y2="1"><stop offset="0" stop-color="#f2f2f2"/><stop offset="0.45" stop-color="#e2e2e2"/><stop offset="0.5" stop-color="#d0d0d0"/><stop offset="1" stop-color="#c6c6c6"/></linearGradient></defs>
<rect x="5" y="43" width="223" height="66" fill="#fff" />
<rect x="7" y="44" width="52" height="24" fill="url(#gt)" />
<rect x="7" y="68" width="109" height="40" fill="url(#gb)" />
<rect x="7" y="44" width="52" height="1" fill="#c81e1e" />
<rect x="7" y="44" width="1" height="64" fill="#c81e1e" />
<rect x="11" y="67" width="44" height="1" fill="#a00000" />
<rect x="11" y="68" width="44" height="1" fill="#f06060" />
<rect x="174" y="44" width="52" height="24" fill="url(#gt)" />
<rect x="118" y="68" width="108" height="40" fill="url(#gb)" />
<rect x="174" y="44" width="52" height="1" fill="#c81e1e" />
<rect x="225" y="44" width="1" height="64" fill="#c81e1e" />
<rect x="178" y="67" width="44" height="1" fill="#a00000" />
<rect x="178" y="68" width="44" height="1" fill="#f06060" />
<text x="19.5" y="60" font-size="12" fill="#fff" textLength="25.5" lengthAdjust="spacingAndGlyphs" >SELL</text>
<text x="187.5" y="60" font-size="12" fill="#fff" textLength="23.5" lengthAdjust="spacingAndGlyphs" >BUY</text>
<text x="27" y="99" font-size="12" fill="#fff" textLength="23.5" lengthAdjust="spacingAndGlyphs" font-weight="bold" >6.88</text>
<text x="137" y="99" font-size="12" fill="#fff" textLength="24" lengthAdjust="spacingAndGlyphs" font-weight="bold" >6.89</text>
<text x="54.3" y="99.3" font-size="33.5" fill="#fff" textLength="35.3" lengthAdjust="spacingAndGlyphs" >89</text>
<text x="163.8" y="99.3" font-size="33.5" fill="#fff" textLength="36" lengthAdjust="spacingAndGlyphs" >12</text>
<text x="93.7" y="83" font-size="11.5" fill="#fff" textLength="7" lengthAdjust="spacingAndGlyphs" font-weight="bold" >9</text>
<text x="205" y="83" font-size="11.5" fill="#fff" textLength="7" lengthAdjust="spacingAndGlyphs" font-weight="bold" >3</text>
<rect x="61" y="44" width="111" height="22" fill="#abadb3" />
<rect x="62" y="45" width="109" height="20" fill="#fff" />
<rect x="63" y="46" width="19" height="18" fill="url(#gs)" />
<rect x="82" y="45" width="1" height="20" fill="#abadb3" />
<rect x="151" y="46" width="19" height="18" fill="url(#gs)" />
<rect x="150" y="45" width="1" height="20" fill="#abadb3" />
<path fill="#4a5bb5" d="M69 53h6l-3 3z" shape-rendering="auto"/>
<path fill="#4a5bb5" d="M157.500 56h6l-3 -3z" shape-rendering="auto"/>
<text x="147" y="59" font-size="12" fill="#000" textLength="24" lengthAdjust="spacingAndGlyphs" text-anchor="end" >1.00</text>
<rect x="1420" y="567" width="1" height="1" fill="#000" />
<text x="1423" y="576" font-size="9.8" fill="#000" textLength="38" lengthAdjust="spacingAndGlyphs" stroke="#000" stroke-width="0.15" >0.060342</text>
<rect x="1420" y="627" width="1" height="1" fill="#000" />
<text x="1423" y="631" font-size="9.8" fill="#000" textLength="18.5" lengthAdjust="spacingAndGlyphs" stroke="#000" stroke-width="0.15" >0.00</text>
<rect x="1420" y="667" width="1" height="1" fill="#000" />
<text x="1422.7" y="666" font-size="9.8" fill="#000" textLength="41.5" lengthAdjust="spacingAndGlyphs" stroke="#000" stroke-width="0.15" >-0.040415</text>
<rect x="1420" y="672" width="1" height="1" fill="#000" />
<text x="1423" y="681" font-size="9.8" fill="#000" textLength="15" lengthAdjust="spacingAndGlyphs" stroke="#000" stroke-width="0.15" >100</text>
<rect x="1420" y="710" width="1" height="1" fill="#000" />
<text x="1422" y="714" font-size="9.8" fill="#000" textLength="10" lengthAdjust="spacingAndGlyphs" stroke="#000" stroke-width="0.15" >70</text>
<rect x="1420" y="761" width="1" height="1" fill="#000" />
<text x="1422" y="765" font-size="9.8" fill="#000" textLength="10" lengthAdjust="spacingAndGlyphs" stroke="#000" stroke-width="0.15" >30</text>
<rect x="1420" y="799" width="1" height="1" fill="#000" />
<text x="1423.3" y="797" font-size="9.8" fill="#000" textLength="5" lengthAdjust="spacingAndGlyphs" stroke="#000" stroke-width="0.15" >0</text>
<rect x="4" y="801" width="1" height="3" fill="#000" />
<text x="2.5" y="813" font-size="9.8" fill="#000" textLength="52.3" lengthAdjust="spacingAndGlyphs" stroke="#000" stroke-width="0.15" >27 Dec 2018</text>
<rect x="68" y="801" width="1" height="3" fill="#000" />
<text x="66.5" y="813" font-size="9.8" fill="#000" textLength="45.55" lengthAdjust="spacingAndGlyphs" stroke="#000" stroke-width="0.15" >8 Jan 2019</text>
<rect x="132" y="801" width="1" height="3" fill="#000" />
<text x="130.5" y="813" font-size="9.8" fill="#000" textLength="50.05" lengthAdjust="spacingAndGlyphs" stroke="#000" stroke-width="0.15" >18 Jan 2019</text>
<rect x="196" y="801" width="1" height="3" fill="#000" />
<text x="194.5" y="813" font-size="9.8" fill="#000" textLength="50.05" lengthAdjust="spacingAndGlyphs" stroke="#000" stroke-width="0.15" >30 Jan 2019</text>
<rect x="260" y="801" width="1" height="3" fill="#000" />
<text x="258.5" y="813" font-size="9.8" fill="#000" textLength="52.05" lengthAdjust="spacingAndGlyphs" stroke="#000" stroke-width="0.15" >11 Feb 2019</text>
<rect x="324" y="801" width="1" height="3" fill="#000" />
<text x="322.5" y="813" font-size="9.8" fill="#000" textLength="52.05" lengthAdjust="spacingAndGlyphs" stroke="#000" stroke-width="0.15" >21 Feb 2019</text>
<rect x="388" y="801" width="1" height="3" fill="#000" />
<text x="386.5" y="813" font-size="9.8" fill="#000" textLength="47.55" lengthAdjust="spacingAndGlyphs" stroke="#000" stroke-width="0.15" >5 Mar 2019</text>
<rect x="452" y="801" width="1" height="3" fill="#000" />
<text x="450.5" y="813" font-size="9.8" fill="#000" textLength="52.05" lengthAdjust="spacingAndGlyphs" stroke="#000" stroke-width="0.15" >15 Mar 2019</text>
<rect x="516" y="801" width="1" height="3" fill="#000" />
<text x="514.5" y="813" font-size="9.8" fill="#000" textLength="52.8" lengthAdjust="spacingAndGlyphs" stroke="#000" stroke-width="0.15" >27 Mar 2019</text>
<rect x="580" y="801" width="1" height="3" fill="#000" />
<text x="578.5" y="813" font-size="9.8" fill="#000" textLength="46.55" lengthAdjust="spacingAndGlyphs" stroke="#000" stroke-width="0.15" >8 Apr 2019</text>
<rect x="644" y="801" width="1" height="3" fill="#000" />
<text x="642.5" y="813" font-size="9.8" fill="#000" textLength="50.8" lengthAdjust="spacingAndGlyphs" stroke="#000" stroke-width="0.15" >18 Apr 2019</text>
<rect x="708" y="801" width="1" height="3" fill="#000" />
<text x="706.5" y="813" font-size="9.8" fill="#000" textLength="50.05" lengthAdjust="spacingAndGlyphs" stroke="#000" stroke-width="0.15" >1 May 2019</text>
<rect x="772" y="801" width="1" height="3" fill="#000" />
<text x="770.5" y="813" font-size="9.8" fill="#000" textLength="55.3" lengthAdjust="spacingAndGlyphs" stroke="#000" stroke-width="0.15" >13 May 2019</text>
<rect x="836" y="801" width="1" height="3" fill="#000" />
<text x="834.5" y="813" font-size="9.8" fill="#000" textLength="55.3" lengthAdjust="spacingAndGlyphs" stroke="#000" stroke-width="0.15" >23 May 2019</text>
<rect x="900" y="801" width="1" height="3" fill="#000" />
<text x="898.5" y="813" font-size="9.8" fill="#000" textLength="45.3" lengthAdjust="spacingAndGlyphs" stroke="#000" stroke-width="0.15" >4 Jun 2019</text>
<rect x="964" y="801" width="1" height="3" fill="#000" />
<text x="962.5" y="813" font-size="9.8" fill="#000" textLength="50.05" lengthAdjust="spacingAndGlyphs" stroke="#000" stroke-width="0.15" >14 Jun 2019</text>
<rect x="1028" y="801" width="1" height="3" fill="#000" />
<text x="1026.5" y="813" font-size="9.8" fill="#000" textLength="50.55" lengthAdjust="spacingAndGlyphs" stroke="#000" stroke-width="0.15" >26 Jun 2019</text>
<rect x="1092" y="801" width="1" height="3" fill="#000" />
<text x="1090.5" y="813" font-size="9.8" fill="#000" textLength="42.55" lengthAdjust="spacingAndGlyphs" stroke="#000" stroke-width="0.15" >8 Jul 2019</text>
<rect x="1156" y="801" width="1" height="3" fill="#000" />
<text x="1154.5" y="813" font-size="9.8" fill="#000" textLength="47.05" lengthAdjust="spacingAndGlyphs" stroke="#000" stroke-width="0.15" >18 Jul 2019</text>
<rect x="1220" y="801" width="1" height="3" fill="#000" />
<text x="1218.5" y="813" font-size="9.8" fill="#000" textLength="47.3" lengthAdjust="spacingAndGlyphs" stroke="#000" stroke-width="0.15" >30 Jul 2019</text>
<rect x="0" y="821" width="1460" height="1" fill="#e3e3e3" />
<rect x="0" y="822" width="1460" height="1" fill="#fff" />
<rect x="0" y="823" width="1460" height="1" fill="#000" />
<rect x="0" y="824" width="1460" height="18" fill="#f0f0f0" />
<rect x="437" y="823" width="112" height="19" fill="#000" />
<rect x="438" y="823" width="110" height="17" fill="#fff" />
<text x="16.5" y="838" font-size="12" fill="#6e6e6e" textLength="85" lengthAdjust="spacingAndGlyphs" >EURUSD-,Daily</text>
<text x="123" y="838" font-size="12" fill="#6e6e6e" textLength="87" lengthAdjust="spacingAndGlyphs" >AUDUSD-,Daily</text>
<text x="233" y="838" font-size="12" fill="#6e6e6e" textLength="84" lengthAdjust="spacingAndGlyphs" >USDCHF-,Daily</text>
<text x="340.5" y="838" font-size="12" fill="#6e6e6e" textLength="85.5" lengthAdjust="spacingAndGlyphs" >USDCAD-,Daily</text>
<text x="449.8" y="838" font-size="12" fill="#000" textLength="87.5" lengthAdjust="spacingAndGlyphs" >USDCNH-,Daily</text>
<text x="560.5" y="838" font-size="12" fill="#6e6e6e" textLength="96.5" lengthAdjust="spacingAndGlyphs" >EURCHF-,Weekly</text>
<text x="681.3" y="838" font-size="12" fill="#6e6e6e" textLength="100" lengthAdjust="spacingAndGlyphs" >XAUUSD-,Weekly</text>
<text x="804.5" y="838" font-size="12" fill="#6e6e6e" textLength="72.5" lengthAdjust="spacingAndGlyphs" >GBPUSD-,H1</text>
<text x="900.5" y="838" font-size="12" fill="#6e6e6e" textLength="56.5" lengthAdjust="spacingAndGlyphs" >UKOil-,H1</text>
<text x="979.5" y="838" font-size="12" fill="#6e6e6e" textLength="82.5" lengthAdjust="spacingAndGlyphs" >USDX-,Weekly</text>
<rect x="113" y="826" width="1" height="14" fill="#555" />
<rect x="221" y="826" width="1" height="14" fill="#555" />
<rect x="329" y="826" width="1" height="14" fill="#555" />
<rect x="669" y="826" width="1" height="14" fill="#555" />
<rect x="793" y="826" width="1" height="14" fill="#555" />
<rect x="889" y="826" width="1" height="14" fill="#555" />
<rect x="969" y="826" width="1" height="14" fill="#555" />
<rect x="1074" y="826" width="1" height="14" fill="#555" />
<path fill="#a0a0a0" d="M1438.200 828.800v6.400l-3.400-3.200zM1453.800 828.800v6.400l3.400-3.200z" shape-rendering="auto"/></svg></body></html>
